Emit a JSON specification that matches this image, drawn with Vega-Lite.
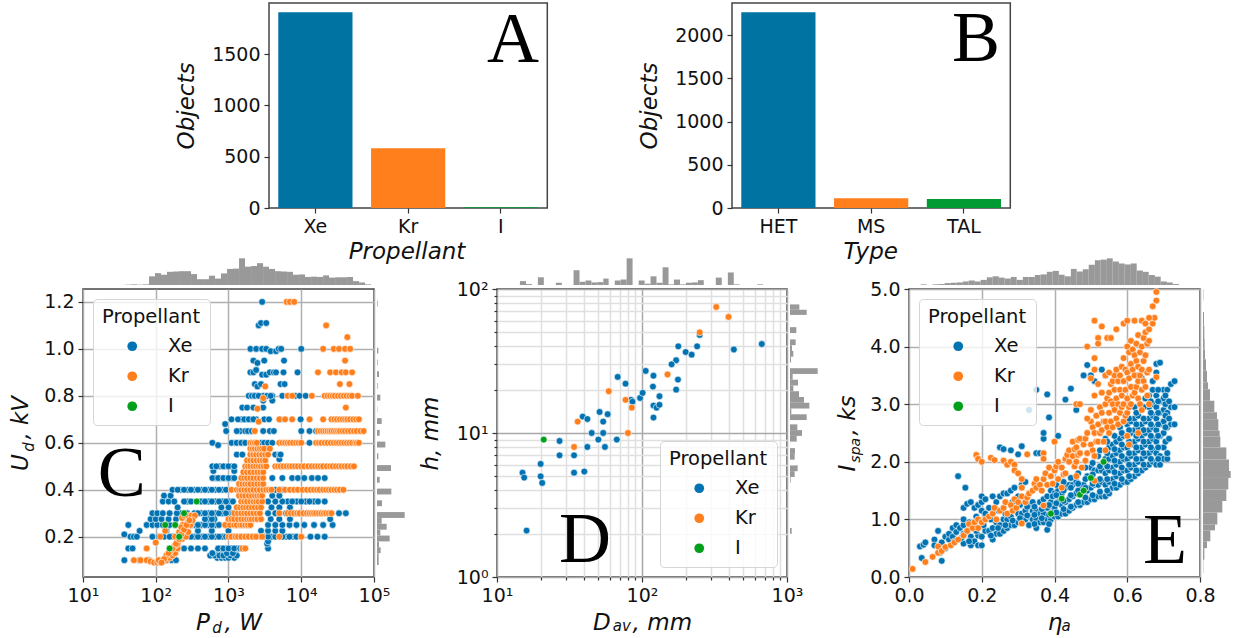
{"$schema":"https://vega.github.io/schema/vega-lite/v6.json","autosize":{"type":"none"},"padding":{"left":83,"top":3,"right":1150,"bottom":635},"background":"white","spacing":3,"resolve":{"scale":{"color":"independent"}},
"config":{"font":"DejaVu Sans","view":{"stroke":"#444","strokeWidth":1.5},"axis":{"labelFontSize":19,"labelColor":"#111","labelFlush":false,"labelOverlap":false,"titleFontSize":23,"titleFontStyle":"italic","titleFontWeight":"normal","titleColor":"#111","tickSize":5,"tickColor":"#333","tickWidth":1.2,"labelPadding":4,"domain":false,"gridColor":"#b0b0b0","gridWidth":1.5},"legend":{"fillColor":"rgba(255,255,255,0.8)","strokeColor":"#d5d5d5","cornerRadius":4,"padding":9,"zindex":1,"symbolSize":95,"symbolType":"circle","symbolStrokeWidth":0,"symbolOffset":20.5,"labelOffset":26,"rowPadding":9,"titleFontSize":19.5,"labelFontSize":19.5,"titleFontWeight":"normal","titlePadding":9,"titleColor":"#111","labelColor":"#111"}},
"datasets":{
"c":[
{"x":215,"y":0.3,"c":"Xe"},{"x":270,"y":0.3,"c":"Xe"},{"x":340,"y":0.3,"c":"Xe"},{"x":420,"y":0.3,"c":"Xe"},{"x":530,"y":0.3,"c":"Xe"},{"x":660,"y":0.3,"c":"Xe"},{"x":830,"y":0.3,"c":"Xe"},{"x":1030,"y":0.3,"c":"Xe"},{"x":5000,"y":0.3,"c":"Xe"},{"x":6200,"y":0.3,"c":"Xe"},{"x":7800,"y":0.3,"c":"Xe"},{"x":9600,"y":0.3,"c":"Xe"},{"x":12000,"y":0.3,"c":"Xe"},{"x":15000,"y":0.3,"c":"Xe"},{"x":18500,"y":0.3,"c":"Xe"},
{"x":270,"y":0.35,"c":"Xe"},{"x":420,"y":0.35,"c":"Xe"},{"x":530,"y":0.35,"c":"Xe"},{"x":660,"y":0.35,"c":"Xe"},{"x":830,"y":0.35,"c":"Xe"},{"x":1030,"y":0.35,"c":"Xe"},{"x":6500,"y":0.35,"c":"Xe"},{"x":8700,"y":0.35,"c":"Xe"},{"x":11500,"y":0.35,"c":"Xe"},{"x":15000,"y":0.35,"c":"Xe"},
{"x":340,"y":0.25,"c":"Xe"},{"x":420,"y":0.25,"c":"Xe"},{"x":530,"y":0.25,"c":"Xe"},{"x":660,"y":0.25,"c":"Xe"},{"x":170,"y":0.2,"c":"Xe"},{"x":220,"y":0.2,"c":"Xe"},{"x":275,"y":0.2,"c":"Xe"},{"x":345,"y":0.2,"c":"Xe"},{"x":430,"y":0.2,"c":"Xe"},{"x":530,"y":0.2,"c":"Xe"},{"x":660,"y":0.2,"c":"Xe"},{"x":830,"y":0.2,"c":"Xe"},{"x":3100,"y":0.2,"c":"Xe"},{"x":3900,"y":0.2,"c":"Xe"},{"x":6200,"y":0.2,"c":"Xe"},{"x":7700,"y":0.2,"c":"Xe"},
{"x":530,"y":0.275,"c":"Xe"},{"x":640,"y":0.275,"c":"Xe"},{"x":220,"y":0.4,"c":"Xe"},{"x":275,"y":0.4,"c":"Xe"},{"x":340,"y":0.4,"c":"Xe"},{"x":420,"y":0.4,"c":"Xe"},{"x":530,"y":0.4,"c":"Xe"},{"x":660,"y":0.4,"c":"Xe"},{"x":830,"y":0.4,"c":"Xe"},{"x":1030,"y":0.4,"c":"Xe"},{"x":4900,"y":0.4,"c":"Xe"},{"x":6000,"y":0.4,"c":"Xe"},
{"x":660,"y":0.45,"c":"Xe"},{"x":780,"y":0.45,"c":"Xe"},{"x":920,"y":0.45,"c":"Xe"},{"x":1100,"y":0.45,"c":"Xe"},{"x":760,"y":0.5,"c":"Xe"},{"x":920,"y":0.5,"c":"Xe"},{"x":1100,"y":0.5,"c":"Xe"},{"x":1200,"y":0.6,"c":"Xe"},{"x":1400,"y":0.6,"c":"Xe"},{"x":1600,"y":0.6,"c":"Xe"},{"x":1450,"y":0.65,"c":"Xe"},{"x":2000,"y":0.65,"c":"Xe"},{"x":1500,"y":0.7,"c":"Xe"},{"x":1750,"y":0.7,"c":"Xe"},{"x":2050,"y":0.7,"c":"Xe"},{"x":2400,"y":0.7,"c":"Xe"},{"x":2000,"y":0.8,"c":"Xe"},{"x":2200,"y":0.8,"c":"Xe"},{"x":2450,"y":0.8,"c":"Xe"},{"x":3000,"y":0.8,"c":"Xe"},{"x":4000,"y":0.8,"c":"Xe"},{"x":780,"y":0.15,"c":"Xe"},{"x":920,"y":0.15,"c":"Xe"},{"x":1100,"y":0.15,"c":"Xe"},{"x":1300,"y":0.15,"c":"Xe"},{"x":600,"y":0.125,"c":"Xe"},{"x":700,"y":0.125,"c":"Xe"},{"x":800,"y":0.125,"c":"Xe"},{"x":900,"y":0.125,"c":"Xe"},{"x":1000,"y":0.125,"c":"Xe"},
{"x":37,"y":0.1,"c":"Xe"},{"x":60,"y":0.1,"c":"Xe"},{"x":80,"y":0.1,"c":"Xe"},{"x":140,"y":0.1,"c":"Xe"},{"x":165,"y":0.1,"c":"Xe"},{"x":190,"y":0.1,"c":"Xe"},
{"x":700,"y":0.11,"c":"Xe"},{"x":800,"y":0.11,"c":"Xe"},{"x":900,"y":0.11,"c":"Xe"},{"x":1000,"y":0.11,"c":"Xe"},{"x":1200,"y":0.11,"c":"Xe"},
{"x":560,"y":0.12,"c":"Xe"},{"x":650,"y":0.12,"c":"Xe"},{"x":750,"y":0.12,"c":"Xe"},{"x":850,"y":0.12,"c":"Xe"},{"x":1050,"y":0.12,"c":"Xe"},{"x":1300,"y":0.12,"c":"Xe"},{"x":600,"y":0.13,"c":"Xe"},{"x":950,"y":0.13,"c":"Xe"},{"x":1150,"y":0.13,"c":"Xe"},
{"x":42,"y":0.15,"c":"Xe"},{"x":48,"y":0.15,"c":"Xe"},{"x":165,"y":0.15,"c":"Xe"},{"x":200,"y":0.15,"c":"Xe"},{"x":245,"y":0.15,"c":"Xe"},{"x":305,"y":0.15,"c":"Xe"},{"x":380,"y":0.15,"c":"Xe"},{"x":475,"y":0.15,"c":"Xe"},{"x":720,"y":0.15,"c":"Xe"},{"x":850,"y":0.15,"c":"Xe"},{"x":1000,"y":0.15,"c":"Xe"},{"x":1200,"y":0.15,"c":"Xe"},{"x":1450,"y":0.15,"c":"Xe"},{"x":3500,"y":0.15,"c":"Xe"},{"x":3400,"y":0.17,"c":"Xe"},{"x":3500,"y":0.18,"c":"Xe"},
{"x":37,"y":0.21,"c":"Xe"},{"x":45,"y":0.2,"c":"Xe"},{"x":50,"y":0.2,"c":"Xe"},{"x":55,"y":0.2,"c":"Xe"},{"x":90,"y":0.2,"c":"Xe"},{"x":110,"y":0.2,"c":"Xe"},{"x":130,"y":0.2,"c":"Xe"},{"x":155,"y":0.2,"c":"Xe"},{"x":195,"y":0.2,"c":"Xe"},{"x":245,"y":0.2,"c":"Xe"},{"x":305,"y":0.2,"c":"Xe"},{"x":380,"y":0.2,"c":"Xe"},{"x":475,"y":0.2,"c":"Xe"},{"x":590,"y":0.2,"c":"Xe"},{"x":740,"y":0.2,"c":"Xe"},{"x":925,"y":0.2,"c":"Xe"},{"x":1150,"y":0.2,"c":"Xe"},{"x":1450,"y":0.2,"c":"Xe"},{"x":1800,"y":0.2,"c":"Xe"},{"x":2250,"y":0.2,"c":"Xe"},{"x":2800,"y":0.2,"c":"Xe"},{"x":3500,"y":0.2,"c":"Xe"},{"x":4400,"y":0.2,"c":"Xe"},{"x":5500,"y":0.2,"c":"Xe"},{"x":6900,"y":0.2,"c":"Xe"},{"x":8600,"y":0.2,"c":"Xe"},{"x":13400,"y":0.2,"c":"Xe"},{"x":16700,"y":0.2,"c":"Xe"},{"x":21000,"y":0.2,"c":"Xe"},
{"x":60,"y":0.225,"c":"Xe"},{"x":140,"y":0.225,"c":"Xe"},{"x":380,"y":0.225,"c":"Xe"},{"x":590,"y":0.225,"c":"Xe"},{"x":1000,"y":0.225,"c":"Xe"},{"x":2800,"y":0.225,"c":"Xe"},{"x":3500,"y":0.225,"c":"Xe"},{"x":4400,"y":0.225,"c":"Xe"},{"x":5500,"y":0.225,"c":"Xe"},
{"x":42,"y":0.25,"c":"Xe"},{"x":75,"y":0.25,"c":"Xe"},{"x":90,"y":0.25,"c":"Xe"},{"x":105,"y":0.25,"c":"Xe"},{"x":125,"y":0.25,"c":"Xe"},{"x":155,"y":0.25,"c":"Xe"},{"x":305,"y":0.25,"c":"Xe"},{"x":380,"y":0.25,"c":"Xe"},{"x":475,"y":0.25,"c":"Xe"},{"x":590,"y":0.25,"c":"Xe"},{"x":740,"y":0.25,"c":"Xe"},{"x":3500,"y":0.25,"c":"Xe"},{"x":4400,"y":0.25,"c":"Xe"},{"x":5500,"y":0.25,"c":"Xe"},{"x":6900,"y":0.25,"c":"Xe"},{"x":8600,"y":0.25,"c":"Xe"},{"x":11000,"y":0.25,"c":"Xe"},{"x":15000,"y":0.25,"c":"Xe"},{"x":20000,"y":0.25,"c":"Xe"},{"x":27000,"y":0.25,"c":"Xe"},
{"x":85,"y":0.275,"c":"Xe"},{"x":100,"y":0.275,"c":"Xe"},{"x":120,"y":0.275,"c":"Xe"},{"x":150,"y":0.275,"c":"Xe"},{"x":190,"y":0.275,"c":"Xe"},{"x":475,"y":0.275,"c":"Xe"},{"x":590,"y":0.275,"c":"Xe"},{"x":3800,"y":0.275,"c":"Xe"},{"x":5000,"y":0.275,"c":"Xe"},{"x":7000,"y":0.275,"c":"Xe"},{"x":25000,"y":0.275,"c":"Xe"},
{"x":90,"y":0.3,"c":"Xe"},{"x":105,"y":0.3,"c":"Xe"},{"x":125,"y":0.3,"c":"Xe"},{"x":155,"y":0.3,"c":"Xe"},{"x":195,"y":0.3,"c":"Xe"},{"x":380,"y":0.3,"c":"Xe"},{"x":475,"y":0.3,"c":"Xe"},{"x":590,"y":0.3,"c":"Xe"},{"x":740,"y":0.3,"c":"Xe"},{"x":925,"y":0.3,"c":"Xe"},{"x":1150,"y":0.3,"c":"Xe"},{"x":3500,"y":0.3,"c":"Xe"},{"x":4400,"y":0.3,"c":"Xe"},{"x":33000,"y":0.3,"c":"Xe"},{"x":41000,"y":0.3,"c":"Xe"},
{"x":200,"y":0.325,"c":"Xe"},{"x":800,"y":0.325,"c":"Xe"},{"x":1000,"y":0.325,"c":"Xe"},{"x":3900,"y":0.325,"c":"Xe"},{"x":5000,"y":0.325,"c":"Xe"},{"x":7000,"y":0.325,"c":"Xe"},
{"x":125,"y":0.35,"c":"Xe"},{"x":150,"y":0.35,"c":"Xe"},{"x":180,"y":0.35,"c":"Xe"},{"x":245,"y":0.35,"c":"Xe"},{"x":305,"y":0.35,"c":"Xe"},{"x":475,"y":0.35,"c":"Xe"},{"x":590,"y":0.35,"c":"Xe"},{"x":740,"y":0.35,"c":"Xe"},{"x":925,"y":0.35,"c":"Xe"},{"x":1150,"y":0.35,"c":"Xe"},{"x":3500,"y":0.35,"c":"Xe"},{"x":4400,"y":0.35,"c":"Xe"},{"x":5500,"y":0.35,"c":"Xe"},{"x":7500,"y":0.35,"c":"Xe"},{"x":10000,"y":0.35,"c":"Xe"},{"x":13000,"y":0.35,"c":"Xe"},{"x":17000,"y":0.35,"c":"Xe"},{"x":21000,"y":0.35,"c":"Xe"},
{"x":130,"y":0.375,"c":"Xe"},{"x":160,"y":0.375,"c":"Xe"},{"x":4000,"y":0.375,"c":"Xe"},{"x":5000,"y":0.375,"c":"Xe"},
{"x":170,"y":0.4,"c":"Xe"},{"x":200,"y":0.4,"c":"Xe"},{"x":245,"y":0.4,"c":"Xe"},{"x":305,"y":0.4,"c":"Xe"},{"x":380,"y":0.4,"c":"Xe"},{"x":475,"y":0.4,"c":"Xe"},{"x":590,"y":0.4,"c":"Xe"},{"x":740,"y":0.4,"c":"Xe"},{"x":925,"y":0.4,"c":"Xe"},{"x":4400,"y":0.4,"c":"Xe"},{"x":5500,"y":0.4,"c":"Xe"},
{"x":600,"y":0.45,"c":"Xe"},{"x":720,"y":0.45,"c":"Xe"},{"x":850,"y":0.45,"c":"Xe"},{"x":1000,"y":0.45,"c":"Xe"},{"x":1200,"y":0.45,"c":"Xe"},{"x":4000,"y":0.45,"c":"Xe"},{"x":5500,"y":0.45,"c":"Xe"},{"x":7500,"y":0.45,"c":"Xe"},{"x":9000,"y":0.45,"c":"Xe"},{"x":11000,"y":0.45,"c":"Xe"},{"x":14000,"y":0.45,"c":"Xe"},{"x":17000,"y":0.45,"c":"Xe"},{"x":21000,"y":0.45,"c":"Xe"},
{"x":620,"y":0.48,"c":"Xe"},{"x":1200,"y":0.48,"c":"Xe"},{"x":600,"y":0.5,"c":"Xe"},{"x":680,"y":0.5,"c":"Xe"},{"x":850,"y":0.5,"c":"Xe"},{"x":1000,"y":0.5,"c":"Xe"},{"x":1200,"y":0.5,"c":"Xe"},
{"x":5000,"y":0.53,"c":"Xe"},{"x":1300,"y":0.55,"c":"Xe"},{"x":1550,"y":0.55,"c":"Xe"},{"x":4400,"y":0.55,"c":"Xe"},{"x":5000,"y":0.55,"c":"Xe"},{"x":5200,"y":0.55,"c":"Xe"},
{"x":600,"y":0.6,"c":"Xe"},{"x":720,"y":0.59,"c":"Xe"},{"x":1100,"y":0.6,"c":"Xe"},{"x":1300,"y":0.6,"c":"Xe"},{"x":1500,"y":0.6,"c":"Xe"},{"x":1700,"y":0.6,"c":"Xe"},{"x":2800,"y":0.6,"c":"Xe"},{"x":3100,"y":0.6,"c":"Xe"},{"x":3500,"y":0.6,"c":"Xe"},{"x":4000,"y":0.6,"c":"Xe"},{"x":13000,"y":0.6,"c":"Xe"},
{"x":930,"y":0.65,"c":"Xe"},{"x":1300,"y":0.65,"c":"Xe"},{"x":1700,"y":0.65,"c":"Xe"},{"x":1850,"y":0.65,"c":"Xe"},{"x":2100,"y":0.65,"c":"Xe"},{"x":3000,"y":0.65,"c":"Xe"},{"x":3700,"y":0.65,"c":"Xe"},{"x":4200,"y":0.65,"c":"Xe"},{"x":10000,"y":0.65,"c":"Xe"},{"x":13000,"y":0.65,"c":"Xe"},{"x":16000,"y":0.65,"c":"Xe"},{"x":900,"y":0.68,"c":"Xe"},
{"x":1100,"y":0.7,"c":"Xe"},{"x":1350,"y":0.7,"c":"Xe"},{"x":1650,"y":0.7,"c":"Xe"},{"x":1900,"y":0.7,"c":"Xe"},{"x":2200,"y":0.7,"c":"Xe"},{"x":3100,"y":0.7,"c":"Xe"},{"x":3600,"y":0.7,"c":"Xe"},{"x":5200,"y":0.7,"c":"Xe"},{"x":9800,"y":0.7,"c":"Xe"},
{"x":1550,"y":0.75,"c":"Xe"},{"x":1800,"y":0.75,"c":"Xe"},{"x":2200,"y":0.75,"c":"Xe"},{"x":3000,"y":0.75,"c":"Xe"},{"x":3000,"y":0.78,"c":"Xe"},{"x":4000,"y":0.78,"c":"Xe"},
{"x":1900,"y":0.8,"c":"Xe"},{"x":2100,"y":0.8,"c":"Xe"},{"x":2300,"y":0.8,"c":"Xe"},{"x":2600,"y":0.8,"c":"Xe"},{"x":3400,"y":0.8,"c":"Xe"},{"x":3800,"y":0.8,"c":"Xe"},{"x":5500,"y":0.8,"c":"Xe"},{"x":8300,"y":0.8,"c":"Xe"},{"x":9500,"y":0.8,"c":"Xe"},{"x":11500,"y":0.8,"c":"Xe"},
{"x":2300,"y":0.85,"c":"Xe"},{"x":2500,"y":0.84,"c":"Xe"},{"x":2800,"y":0.85,"c":"Xe"},{"x":5200,"y":0.85,"c":"Xe"},{"x":5900,"y":0.85,"c":"Xe"},
{"x":2000,"y":0.9,"c":"Xe"},{"x":2200,"y":0.9,"c":"Xe"},{"x":2400,"y":0.91,"c":"Xe"},{"x":2900,"y":0.89,"c":"Xe"},{"x":3300,"y":0.89,"c":"Xe"},{"x":3700,"y":0.9,"c":"Xe"},{"x":4200,"y":0.9,"c":"Xe"},{"x":4500,"y":0.9,"c":"Xe"},{"x":5700,"y":0.9,"c":"Xe"},{"x":8900,"y":0.9,"c":"Xe"},
{"x":2200,"y":0.95,"c":"Xe"},{"x":2500,"y":0.94,"c":"Xe"},{"x":3100,"y":0.95,"c":"Xe"},{"x":5800,"y":0.95,"c":"Xe"},
{"x":2000,"y":1.0,"c":"Xe"},{"x":2400,"y":1.0,"c":"Xe"},{"x":2900,"y":1.0,"c":"Xe"},{"x":3300,"y":1.0,"c":"Xe"},{"x":3800,"y":0.99,"c":"Xe"},{"x":4500,"y":0.99,"c":"Xe"},{"x":4900,"y":1.0,"c":"Xe"},{"x":5300,"y":1.0,"c":"Xe"},{"x":10000,"y":1.0,"c":"Xe"},
{"x":2600,"y":1.1,"c":"Xe"},{"x":2800,"y":1.11,"c":"Xe"},{"x":3300,"y":1.11,"c":"Xe"},{"x":2900,"y":1.2,"c":"Xe"},
{"x":50,"y":0.1,"c":"Kr"},{"x":62,"y":0.1,"c":"Kr"},{"x":75,"y":0.1,"c":"Kr"},{"x":85,"y":0.095,"c":"Kr"},{"x":95,"y":0.09,"c":"Kr"},{"x":105,"y":0.09,"c":"Kr"},{"x":115,"y":0.09,"c":"Kr"},{"x":125,"y":0.095,"c":"Kr"},{"x":140,"y":0.1,"c":"Kr"},{"x":155,"y":0.11,"c":"Kr"},{"x":170,"y":0.12,"c":"Kr"},{"x":185,"y":0.13,"c":"Kr"},{"x":200,"y":0.15,"c":"Kr"},{"x":140,"y":0.12,"c":"Kr"},{"x":160,"y":0.14,"c":"Kr"},{"x":180,"y":0.16,"c":"Kr"},{"x":195,"y":0.18,"c":"Kr"},{"x":215,"y":0.2,"c":"Kr"},{"x":235,"y":0.22,"c":"Kr"},{"x":255,"y":0.24,"c":"Kr"},{"x":275,"y":0.26,"c":"Kr"},{"x":235,"y":0.25,"c":"Kr"},{"x":230,"y":0.28,"c":"Kr"},{"x":250,"y":0.29,"c":"Kr"},{"x":280,"y":0.29,"c":"Kr"},{"x":310,"y":0.29,"c":"Kr"},{"x":345,"y":0.29,"c":"Kr"},{"x":200,"y":0.17,"c":"Kr"},{"x":230,"y":0.19,"c":"Kr"},{"x":260,"y":0.2,"c":"Kr"},{"x":280,"y":0.22,"c":"Kr"},{"x":300,"y":0.25,"c":"Kr"},{"x":320,"y":0.27,"c":"Kr"},{"x":185,"y":0.2,"c":"Kr"},{"x":210,"y":0.22,"c":"Kr"},{"x":225,"y":0.24,"c":"Kr"},{"x":75,"y":0.15,"c":"Kr"},{"x":100,"y":0.175,"c":"Kr"},{"x":115,"y":0.2,"c":"Kr"},{"x":135,"y":0.225,"c":"Kr"},{"x":150,"y":0.13,"c":"Kr"},{"x":170,"y":0.15,"c":"Kr"},{"x":190,"y":0.17,"c":"Kr"},{"x":210,"y":0.19,"c":"Kr"},{"x":225,"y":0.21,"c":"Kr"},{"x":245,"y":0.23,"c":"Kr"},{"x":265,"y":0.25,"c":"Kr"},{"x":290,"y":0.27,"c":"Kr"},{"x":110,"y":0.1,"c":"Kr"},{"x":130,"y":0.105,"c":"Kr"},{"x":120,"y":0.09,"c":"Kr"},
{"x":1550,"y":0.15,"c":"Kr"},{"x":1700,"y":0.15,"c":"Kr"},
{"x":1000,"y":0.2,"c":"Kr"},{"x":1100,"y":0.2,"c":"Kr"},{"x":1250,"y":0.2,"c":"Kr"},{"x":1350,"y":0.2,"c":"Kr"},{"x":1500,"y":0.2,"c":"Kr"},{"x":1700,"y":0.2,"c":"Kr"},{"x":1900,"y":0.2,"c":"Kr"},{"x":2150,"y":0.2,"c":"Kr"},{"x":2400,"y":0.2,"c":"Kr"},{"x":2900,"y":0.2,"c":"Kr"},{"x":5000,"y":0.2,"c":"Kr"},{"x":10000,"y":0.2,"c":"Kr"},
{"x":900,"y":0.25,"c":"Kr"},{"x":1050,"y":0.25,"c":"Kr"},{"x":1200,"y":0.25,"c":"Kr"},{"x":1300,"y":0.25,"c":"Kr"},{"x":1450,"y":0.25,"c":"Kr"},{"x":1550,"y":0.25,"c":"Kr"},{"x":1700,"y":0.25,"c":"Kr"},{"x":1850,"y":0.25,"c":"Kr"},{"x":2000,"y":0.25,"c":"Kr"},
{"x":1000,"y":0.275,"c":"Kr"},{"x":1100,"y":0.275,"c":"Kr"},{"x":1200,"y":0.275,"c":"Kr"},{"x":1350,"y":0.275,"c":"Kr"},{"x":1500,"y":0.275,"c":"Kr"},{"x":1650,"y":0.275,"c":"Kr"},{"x":1800,"y":0.275,"c":"Kr"},{"x":1950,"y":0.275,"c":"Kr"},{"x":2100,"y":0.275,"c":"Kr"},{"x":2300,"y":0.275,"c":"Kr"},{"x":2500,"y":0.275,"c":"Kr"},{"x":2800,"y":0.275,"c":"Kr"},
{"x":1200,"y":0.3,"c":"Kr"},{"x":1350,"y":0.3,"c":"Kr"},{"x":1500,"y":0.3,"c":"Kr"},{"x":1650,"y":0.3,"c":"Kr"},{"x":1800,"y":0.3,"c":"Kr"},{"x":2000,"y":0.3,"c":"Kr"},{"x":2200,"y":0.3,"c":"Kr"},{"x":2450,"y":0.3,"c":"Kr"},{"x":2700,"y":0.3,"c":"Kr"},{"x":5000,"y":0.3,"c":"Kr"},{"x":6500,"y":0.3,"c":"Kr"},{"x":7200,"y":0.3,"c":"Kr"},{"x":8000,"y":0.3,"c":"Kr"},{"x":8800,"y":0.3,"c":"Kr"},{"x":9500,"y":0.3,"c":"Kr"},{"x":10700,"y":0.3,"c":"Kr"},{"x":12000,"y":0.3,"c":"Kr"},{"x":13000,"y":0.3,"c":"Kr"},{"x":14000,"y":0.3,"c":"Kr"},{"x":15000,"y":0.3,"c":"Kr"},{"x":16000,"y":0.3,"c":"Kr"},{"x":17500,"y":0.3,"c":"Kr"},{"x":19000,"y":0.3,"c":"Kr"},{"x":20500,"y":0.3,"c":"Kr"},{"x":22000,"y":0.3,"c":"Kr"},{"x":24000,"y":0.3,"c":"Kr"},{"x":26000,"y":0.3,"c":"Kr"},
{"x":1300,"y":0.325,"c":"Kr"},{"x":1450,"y":0.325,"c":"Kr"},{"x":1600,"y":0.325,"c":"Kr"},{"x":1750,"y":0.325,"c":"Kr"},{"x":1900,"y":0.325,"c":"Kr"},{"x":2100,"y":0.325,"c":"Kr"},{"x":2300,"y":0.325,"c":"Kr"},{"x":2550,"y":0.325,"c":"Kr"},{"x":2800,"y":0.325,"c":"Kr"},
{"x":1500,"y":0.35,"c":"Kr"},{"x":1650,"y":0.35,"c":"Kr"},{"x":1800,"y":0.35,"c":"Kr"},{"x":2000,"y":0.35,"c":"Kr"},{"x":2200,"y":0.35,"c":"Kr"},{"x":2400,"y":0.35,"c":"Kr"},{"x":2600,"y":0.35,"c":"Kr"},{"x":2900,"y":0.35,"c":"Kr"},
{"x":1400,"y":0.375,"c":"Kr"},{"x":1550,"y":0.375,"c":"Kr"},{"x":1700,"y":0.375,"c":"Kr"},{"x":1900,"y":0.375,"c":"Kr"},{"x":2100,"y":0.375,"c":"Kr"},{"x":2300,"y":0.375,"c":"Kr"},{"x":2500,"y":0.375,"c":"Kr"},{"x":2700,"y":0.375,"c":"Kr"},{"x":2900,"y":0.375,"c":"Kr"},
{"x":1100,"y":0.4,"c":"Kr"},{"x":1300,"y":0.4,"c":"Kr"},{"x":1400,"y":0.4,"c":"Kr"},{"x":1500,"y":0.4,"c":"Kr"},{"x":1650,"y":0.4,"c":"Kr"},{"x":1800,"y":0.4,"c":"Kr"},{"x":2000,"y":0.4,"c":"Kr"},{"x":2200,"y":0.4,"c":"Kr"},{"x":2450,"y":0.4,"c":"Kr"},{"x":2700,"y":0.4,"c":"Kr"},{"x":3000,"y":0.4,"c":"Kr"},{"x":3300,"y":0.4,"c":"Kr"},{"x":3600,"y":0.4,"c":"Kr"},{"x":3900,"y":0.4,"c":"Kr"},{"x":5000,"y":0.4,"c":"Kr"},{"x":6000,"y":0.4,"c":"Kr"},{"x":7000,"y":0.4,"c":"Kr"},{"x":8000,"y":0.4,"c":"Kr"},{"x":9000,"y":0.4,"c":"Kr"},{"x":10500,"y":0.4,"c":"Kr"},{"x":12000,"y":0.4,"c":"Kr"},{"x":13500,"y":0.4,"c":"Kr"},{"x":15000,"y":0.4,"c":"Kr"},{"x":16500,"y":0.4,"c":"Kr"},{"x":18000,"y":0.4,"c":"Kr"},{"x":20000,"y":0.4,"c":"Kr"},{"x":22000,"y":0.4,"c":"Kr"},{"x":24000,"y":0.4,"c":"Kr"},{"x":26000,"y":0.4,"c":"Kr"},{"x":28500,"y":0.4,"c":"Kr"},{"x":31000,"y":0.4,"c":"Kr"},{"x":34000,"y":0.4,"c":"Kr"},{"x":38000,"y":0.4,"c":"Kr"},
{"x":1400,"y":0.425,"c":"Kr"},{"x":1550,"y":0.425,"c":"Kr"},{"x":1700,"y":0.425,"c":"Kr"},{"x":1850,"y":0.425,"c":"Kr"},{"x":2000,"y":0.425,"c":"Kr"},{"x":2250,"y":0.425,"c":"Kr"},{"x":2500,"y":0.425,"c":"Kr"},{"x":2750,"y":0.425,"c":"Kr"},{"x":3000,"y":0.425,"c":"Kr"},
{"x":1500,"y":0.45,"c":"Kr"},{"x":1650,"y":0.45,"c":"Kr"},{"x":1800,"y":0.45,"c":"Kr"},{"x":2000,"y":0.45,"c":"Kr"},{"x":2200,"y":0.45,"c":"Kr"},{"x":2450,"y":0.45,"c":"Kr"},{"x":2700,"y":0.45,"c":"Kr"},{"x":3000,"y":0.45,"c":"Kr"},
{"x":1600,"y":0.475,"c":"Kr"},{"x":1800,"y":0.475,"c":"Kr"},{"x":2000,"y":0.475,"c":"Kr"},{"x":2250,"y":0.475,"c":"Kr"},{"x":2500,"y":0.475,"c":"Kr"},{"x":2750,"y":0.475,"c":"Kr"},{"x":3000,"y":0.475,"c":"Kr"},
{"x":1700,"y":0.5,"c":"Kr"},{"x":1850,"y":0.5,"c":"Kr"},{"x":2000,"y":0.5,"c":"Kr"},{"x":2200,"y":0.5,"c":"Kr"},{"x":2400,"y":0.5,"c":"Kr"},{"x":2600,"y":0.5,"c":"Kr"},{"x":2800,"y":0.5,"c":"Kr"},{"x":3050,"y":0.5,"c":"Kr"},{"x":3300,"y":0.5,"c":"Kr"},{"x":4400,"y":0.5,"c":"Kr"},{"x":4800,"y":0.5,"c":"Kr"},{"x":5200,"y":0.5,"c":"Kr"},{"x":5700,"y":0.5,"c":"Kr"},{"x":6300,"y":0.5,"c":"Kr"},{"x":6900,"y":0.5,"c":"Kr"},{"x":7500,"y":0.5,"c":"Kr"},{"x":8200,"y":0.5,"c":"Kr"},{"x":9000,"y":0.5,"c":"Kr"},{"x":10000,"y":0.5,"c":"Kr"},{"x":11000,"y":0.5,"c":"Kr"},{"x":12500,"y":0.5,"c":"Kr"},{"x":14000,"y":0.5,"c":"Kr"},{"x":15500,"y":0.5,"c":"Kr"},{"x":17000,"y":0.5,"c":"Kr"},{"x":18500,"y":0.5,"c":"Kr"},{"x":20000,"y":0.5,"c":"Kr"},{"x":22500,"y":0.5,"c":"Kr"},{"x":25000,"y":0.5,"c":"Kr"},{"x":27000,"y":0.5,"c":"Kr"},{"x":30000,"y":0.5,"c":"Kr"},{"x":33000,"y":0.5,"c":"Kr"},{"x":36000,"y":0.5,"c":"Kr"},{"x":39500,"y":0.5,"c":"Kr"},{"x":43000,"y":0.5,"c":"Kr"},{"x":48000,"y":0.5,"c":"Kr"},{"x":53000,"y":0.5,"c":"Kr"},
{"x":1800,"y":0.525,"c":"Kr"},{"x":2000,"y":0.525,"c":"Kr"},{"x":2200,"y":0.525,"c":"Kr"},{"x":2450,"y":0.525,"c":"Kr"},{"x":2700,"y":0.525,"c":"Kr"},{"x":2950,"y":0.525,"c":"Kr"},{"x":3200,"y":0.525,"c":"Kr"},{"x":2000,"y":0.55,"c":"Kr"},{"x":2200,"y":0.55,"c":"Kr"},{"x":2400,"y":0.55,"c":"Kr"},{"x":2650,"y":0.55,"c":"Kr"},{"x":2900,"y":0.55,"c":"Kr"},{"x":3200,"y":0.55,"c":"Kr"},{"x":3500,"y":0.55,"c":"Kr"},{"x":2000,"y":0.575,"c":"Kr"},{"x":2150,"y":0.575,"c":"Kr"},{"x":2300,"y":0.575,"c":"Kr"},{"x":2500,"y":0.575,"c":"Kr"},{"x":2700,"y":0.575,"c":"Kr"},{"x":2900,"y":0.575,"c":"Kr"},{"x":3100,"y":0.575,"c":"Kr"},{"x":3700,"y":0.575,"c":"Kr"},
{"x":2000,"y":0.6,"c":"Kr"},{"x":2150,"y":0.6,"c":"Kr"},{"x":2300,"y":0.6,"c":"Kr"},{"x":2450,"y":0.6,"c":"Kr"},{"x":5000,"y":0.6,"c":"Kr"},{"x":5500,"y":0.6,"c":"Kr"},{"x":6000,"y":0.6,"c":"Kr"},{"x":6500,"y":0.6,"c":"Kr"},{"x":7000,"y":0.6,"c":"Kr"},{"x":7700,"y":0.6,"c":"Kr"},{"x":8500,"y":0.6,"c":"Kr"},{"x":9200,"y":0.6,"c":"Kr"},{"x":10000,"y":0.6,"c":"Kr"},{"x":16000,"y":0.6,"c":"Kr"},{"x":17500,"y":0.6,"c":"Kr"},{"x":19000,"y":0.6,"c":"Kr"},{"x":21000,"y":0.6,"c":"Kr"},{"x":23000,"y":0.6,"c":"Kr"},{"x":25500,"y":0.6,"c":"Kr"},{"x":28000,"y":0.6,"c":"Kr"},{"x":30500,"y":0.6,"c":"Kr"},{"x":33000,"y":0.6,"c":"Kr"},{"x":36000,"y":0.6,"c":"Kr"},{"x":39000,"y":0.6,"c":"Kr"},{"x":42500,"y":0.6,"c":"Kr"},{"x":46000,"y":0.6,"c":"Kr"},{"x":50000,"y":0.6,"c":"Kr"},{"x":55000,"y":0.6,"c":"Kr"},{"x":58000,"y":0.6,"c":"Kr"},{"x":62000,"y":0.6,"c":"Kr"},
{"x":2300,"y":0.65,"c":"Kr"},{"x":17000,"y":0.65,"c":"Kr"},{"x":18500,"y":0.65,"c":"Kr"},{"x":20000,"y":0.65,"c":"Kr"},{"x":21500,"y":0.65,"c":"Kr"},{"x":23000,"y":0.65,"c":"Kr"},{"x":24500,"y":0.65,"c":"Kr"},{"x":26000,"y":0.65,"c":"Kr"},{"x":28000,"y":0.65,"c":"Kr"},{"x":30000,"y":0.65,"c":"Kr"},{"x":32000,"y":0.65,"c":"Kr"},{"x":34000,"y":0.65,"c":"Kr"},{"x":37000,"y":0.65,"c":"Kr"},{"x":40000,"y":0.65,"c":"Kr"},{"x":44000,"y":0.65,"c":"Kr"},{"x":48000,"y":0.65,"c":"Kr"},{"x":53000,"y":0.65,"c":"Kr"},{"x":58000,"y":0.65,"c":"Kr"},{"x":65000,"y":0.65,"c":"Kr"},{"x":72000,"y":0.65,"c":"Kr"},
{"x":2600,"y":0.69,"c":"Kr"},{"x":5000,"y":0.7,"c":"Kr"},{"x":6000,"y":0.7,"c":"Kr"},{"x":7500,"y":0.7,"c":"Kr"},{"x":13000,"y":0.7,"c":"Kr"},{"x":20000,"y":0.7,"c":"Kr"},{"x":26000,"y":0.7,"c":"Kr"},{"x":28500,"y":0.7,"c":"Kr"},{"x":31000,"y":0.7,"c":"Kr"},{"x":34000,"y":0.7,"c":"Kr"},{"x":37000,"y":0.7,"c":"Kr"},{"x":40000,"y":0.7,"c":"Kr"},{"x":43000,"y":0.7,"c":"Kr"},{"x":47000,"y":0.7,"c":"Kr"},{"x":52000,"y":0.7,"c":"Kr"},{"x":57000,"y":0.7,"c":"Kr"},{"x":62000,"y":0.7,"c":"Kr"},
{"x":2500,"y":0.745,"c":"Kr"},{"x":41000,"y":0.75,"c":"Kr"},{"x":3000,"y":0.79,"c":"Kr"},
{"x":6500,"y":0.8,"c":"Kr"},{"x":7500,"y":0.8,"c":"Kr"},{"x":14000,"y":0.8,"c":"Kr"},{"x":21000,"y":0.8,"c":"Kr"},{"x":23000,"y":0.8,"c":"Kr"},{"x":25000,"y":0.8,"c":"Kr"},{"x":27000,"y":0.8,"c":"Kr"},{"x":29000,"y":0.8,"c":"Kr"},{"x":32000,"y":0.8,"c":"Kr"},{"x":35000,"y":0.8,"c":"Kr"},{"x":38500,"y":0.8,"c":"Kr"},{"x":42000,"y":0.8,"c":"Kr"},{"x":46000,"y":0.8,"c":"Kr"},{"x":50000,"y":0.8,"c":"Kr"},{"x":60000,"y":0.8,"c":"Kr"},
{"x":3200,"y":0.84,"c":"Kr"},{"x":34000,"y":0.85,"c":"Kr"},{"x":46000,"y":0.85,"c":"Kr"},
{"x":17000,"y":0.9,"c":"Kr"},{"x":25000,"y":0.9,"c":"Kr"},{"x":30000,"y":0.9,"c":"Kr"},{"x":36000,"y":0.9,"c":"Kr"},{"x":41000,"y":0.9,"c":"Kr"},{"x":50000,"y":0.9,"c":"Kr"},{"x":40000,"y":0.95,"c":"Kr"},
{"x":20000,"y":1.0,"c":"Kr"},{"x":28000,"y":1.0,"c":"Kr"},{"x":33000,"y":1.0,"c":"Kr"},{"x":40000,"y":1.0,"c":"Kr"},{"x":47000,"y":1.0,"c":"Kr"},{"x":43000,"y":1.05,"c":"Kr"},{"x":22000,"y":1.1,"c":"Kr"},{"x":6300,"y":1.2,"c":"Kr"},{"x":7000,"y":1.2,"c":"Kr"},{"x":8000,"y":1.2,"c":"Kr"},
{"x":135,"y":0.25,"c":"I"},{"x":185,"y":0.25,"c":"I"},{"x":155,"y":0.15,"c":"I"},{"x":210,"y":0.2,"c":"I"},{"x":245,"y":0.3,"c":"I"},{"x":365,"y":0.35,"c":"I"}],
"d":[{"x":15,"y":5.3,"c":"Xe"},{"x":15.4,"y":4.9,"c":"Xe"},{"x":16,"y":2.1,"c":"Xe"},{"x":20,"y":6.1,"c":"Xe"},{"x":20,"y":5,"c":"Xe"},{"x":20.5,"y":4.5,"c":"Xe"},{"x":27,"y":8.8,"c":"Xe"},{"x":27,"y":7,"c":"Xe"},{"x":34,"y":7,"c":"Xe"},{"x":34,"y":5.3,"c":"Xe"},{"x":40,"y":5.4,"c":"Xe"},{"x":42,"y":8,"c":"Xe"},{"x":39,"y":13,"c":"Xe"},{"x":42,"y":12.5,"c":"Xe"},{"x":45,"y":10,"c":"Xe"},{"x":50,"y":9,"c":"Xe"},{"x":51,"y":14,"c":"Xe"},{"x":54,"y":12,"c":"Xe"},{"x":54,"y":10,"c":"Xe"},{"x":55.5,"y":8,"c":"Xe"},{"x":58,"y":13.5,"c":"Xe"},{"x":67,"y":9,"c":"Xe"},{"x":68,"y":24.5,"c":"Xe"},{"x":77,"y":22,"c":"Xe"},{"x":84,"y":17,"c":"Xe"},{"x":86,"y":16.5,"c":"Xe"},{"x":97,"y":17.5,"c":"Xe"},{"x":101,"y":19,"c":"Xe"},{"x":106,"y":27,"c":"Xe"},{"x":120,"y":25,"c":"Xe"},{"x":119,"y":21,"c":"Xe"},{"x":120,"y":15.5,"c":"Xe"},{"x":120,"y":12.8,"c":"Xe"},{"x":126,"y":15,"c":"Xe"},{"x":132,"y":18,"c":"Xe"},{"x":132,"y":15.7,"c":"Xe"},{"x":172,"y":20,"c":"Xe"},{"x":177,"y":23.5,"c":"Xe"},{"x":178,"y":40,"c":"Xe"},{"x":172,"y":32,"c":"Xe"},{"x":160,"y":30,"c":"Xe"},{"x":200,"y":36.5,"c":"Xe"},{"x":220,"y":35,"c":"Xe"},{"x":240,"y":40,"c":"Xe"},{"x":250,"y":48,"c":"Xe"},{"x":430,"y":38,"c":"Xe"},{"x":670,"y":41.5,"c":"Xe"},{"x":36,"y":12,"c":"Kr"},{"x":34,"y":8,"c":"Kr"},{"x":59,"y":19.5,"c":"Kr"},{"x":77,"y":17,"c":"Kr"},{"x":85,"y":15,"c":"Kr"},{"x":80,"y":10,"c":"Kr"},{"x":150,"y":25.5,"c":"Kr"},{"x":250,"y":50,"c":"Kr"},{"x":325,"y":75,"c":"Kr"},{"x":395,"y":64,"c":"Kr"},{"x":21,"y":9,"c":"I"}],
"e":[{"x":0.03,"y":0.53,"c":"Xe"},{"x":0.04,"y":0.56,"c":"Xe"},{"x":0.035,"y":0.33,"c":"Xe"},{"x":0.045,"y":0.6,"c":"Xe"},{"x":0.07,"y":0.65,"c":"Xe"},{"x":0.07,"y":0.55,"c":"Xe"},{"x":0.09,"y":0.28,"c":"Xe"},{"x":0.08,"y":0.8,"c":"Xe"},{"x":0.09,"y":0.6,"c":"Xe"},{"x":0.1,"y":0.5,"c":"Xe"},{"x":0.1,"y":0.7,"c":"Xe"},{"x":0.11,"y":0.65,"c":"Xe"},{"x":0.11,"y":0.75,"c":"Xe"},{"x":0.12,"y":0.85,"c":"Xe"},{"x":0.12,"y":0.7,"c":"Xe"},{"x":0.13,"y":0.9,"c":"Xe"},{"x":0.13,"y":0.78,"c":"Xe"},{"x":0.14,"y":0.85,"c":"Xe"},{"x":0.15,"y":0.58,"c":"Xe"},{"x":0.15,"y":0.75,"c":"Xe"},{"x":0.15,"y":0.9,"c":"Xe"},{"x":0.15,"y":1.0,"c":"Xe"},{"x":0.15,"y":1.2,"c":"Xe"},{"x":0.155,"y":1.55,"c":"Xe"},{"x":0.135,"y":1.75,"c":"Xe"},{"x":0.16,"y":0.8,"c":"Xe"},{"x":0.16,"y":1.27,"c":"Xe"},{"x":0.17,"y":0.55,"c":"Xe"},{"x":0.17,"y":0.7,"c":"Xe"},{"x":0.17,"y":1.3,"c":"Xe"},{"x":0.18,"y":0.62,"c":"Xe"},{"x":0.18,"y":0.92,"c":"Xe"},{"x":0.18,"y":1.2,"c":"Xe"},{"x":0.19,"y":0.55,"c":"Xe"},{"x":0.19,"y":0.72,"c":"Xe"},{"x":0.19,"y":1.25,"c":"Xe"},{"x":0.2,"y":0.55,"c":"Xe"},{"x":0.2,"y":0.7,"c":"Xe"},{"x":0.2,"y":1.15,"c":"Xe"},{"x":0.2,"y":1.3,"c":"Xe"},{"x":0.2,"y":1.4,"c":"Xe"},{"x":0.21,"y":0.8,"c":"Xe"},{"x":0.21,"y":1.1,"c":"Xe"},{"x":0.21,"y":1.35,"c":"Xe"},{"x":0.22,"y":0.8,"c":"Xe"},{"x":0.22,"y":1.2,"c":"Xe"},{"x":0.23,"y":0.65,"c":"Xe"},{"x":0.23,"y":0.85,"c":"Xe"},{"x":0.23,"y":1.4,"c":"Xe"},{"x":0.24,"y":0.75,"c":"Xe"},{"x":0.24,"y":0.95,"c":"Xe"},{"x":0.24,"y":1.3,"c":"Xe"},{"x":0.25,"y":0.75,"c":"Xe"},{"x":0.25,"y":0.9,"c":"Xe"},{"x":0.25,"y":1.4,"c":"Xe"},{"x":0.25,"y":2.25,"c":"Xe"},{"x":0.26,"y":0.8,"c":"Xe"},{"x":0.26,"y":1.0,"c":"Xe"},{"x":0.26,"y":1.45,"c":"Xe"},{"x":0.26,"y":2.22,"c":"Xe"},{"x":0.27,"y":0.85,"c":"Xe"},{"x":0.27,"y":1.0,"c":"Xe"},{"x":0.27,"y":1.45,"c":"Xe"},{"x":0.28,"y":0.9,"c":"Xe"},{"x":0.28,"y":1.05,"c":"Xe"},{"x":0.28,"y":1.5,"c":"Xe"},{"x":0.28,"y":2.2,"c":"Xe"},{"x":0.29,"y":0.9,"c":"Xe"},{"x":0.29,"y":1.55,"c":"Xe"},{"x":0.3,"y":0.95,"c":"Xe"},{"x":0.3,"y":1.1,"c":"Xe"},{"x":0.3,"y":1.4,"c":"Xe"},{"x":0.3,"y":2.13,"c":"Xe"},{"x":0.31,"y":0.95,"c":"Xe"},{"x":0.31,"y":1.1,"c":"Xe"},{"x":0.31,"y":1.6,"c":"Xe"},{"x":0.31,"y":2.27,"c":"Xe"},{"x":0.32,"y":1.0,"c":"Xe"},{"x":0.32,"y":1.15,"c":"Xe"},{"x":0.32,"y":1.65,"c":"Xe"},{"x":0.33,"y":0.9,"c":"Xe"},{"x":0.33,"y":1.05,"c":"Xe"},{"x":0.33,"y":1.25,"c":"Xe"},{"x":0.33,"y":2.9,"c":"Xe"},{"x":0.34,"y":1.0,"c":"Xe"},{"x":0.34,"y":1.15,"c":"Xe"},{"x":0.34,"y":1.3,"c":"Xe"},{"x":0.35,"y":0.85,"c":"Xe"},{"x":0.35,"y":1.0,"c":"Xe"},{"x":0.35,"y":1.15,"c":"Xe"},{"x":0.35,"y":2.15,"c":"Xe"},{"x":0.35,"y":3.25,"c":"Xe"},{"x":0.36,"y":0.95,"c":"Xe"},{"x":0.36,"y":1.1,"c":"Xe"},{"x":0.36,"y":1.3,"c":"Xe"},{"x":0.36,"y":2.15,"c":"Xe"},{"x":0.37,"y":0.95,"c":"Xe"},{"x":0.37,"y":1.1,"c":"Xe"},{"x":0.37,"y":1.35,"c":"Xe"},{"x":0.37,"y":2.4,"c":"Xe"},{"x":0.37,"y":2.5,"c":"Xe"},{"x":0.38,"y":0.82,"c":"Xe"},{"x":0.38,"y":1.0,"c":"Xe"},{"x":0.38,"y":1.2,"c":"Xe"},{"x":0.38,"y":1.4,"c":"Xe"},{"x":0.38,"y":3.17,"c":"Xe"},{"x":0.385,"y":2.77,"c":"Xe"},{"x":0.39,"y":1.0,"c":"Xe"},{"x":0.39,"y":1.3,"c":"Xe"},{"x":0.39,"y":1.5,"c":"Xe"},{"x":0.4,"y":1.05,"c":"Xe"},{"x":0.4,"y":1.2,"c":"Xe"},{"x":0.4,"y":1.45,"c":"Xe"},{"x":0.41,"y":1.05,"c":"Xe"},{"x":0.41,"y":1.3,"c":"Xe"},{"x":0.41,"y":1.5,"c":"Xe"},{"x":0.41,"y":2.45,"c":"Xe"},{"x":0.42,"y":1.1,"c":"Xe"},{"x":0.42,"y":1.25,"c":"Xe"},{"x":0.42,"y":1.45,"c":"Xe"},{"x":0.43,"y":1.1,"c":"Xe"},{"x":0.43,"y":1.3,"c":"Xe"},{"x":0.43,"y":1.55,"c":"Xe"},{"x":0.43,"y":3.08,"c":"Xe"},{"x":0.44,"y":1.15,"c":"Xe"},{"x":0.44,"y":1.35,"c":"Xe"},{"x":0.44,"y":1.6,"c":"Xe"},{"x":0.445,"y":3.27,"c":"Xe"},{"x":0.45,"y":1.2,"c":"Xe"},{"x":0.45,"y":1.4,"c":"Xe"},{"x":0.45,"y":1.6,"c":"Xe"},{"x":0.46,"y":1.25,"c":"Xe"},{"x":0.46,"y":1.45,"c":"Xe"},{"x":0.46,"y":1.65,"c":"Xe"},{"x":0.46,"y":2.9,"c":"Xe"},{"x":0.47,"y":1.25,"c":"Xe"},{"x":0.47,"y":1.55,"c":"Xe"},{"x":0.48,"y":1.3,"c":"Xe"},{"x":0.48,"y":1.6,"c":"Xe"},{"x":0.48,"y":3.5,"c":"Xe"},{"x":0.49,"y":1.3,"c":"Xe"},{"x":0.49,"y":1.5,"c":"Xe"},{"x":0.49,"y":1.75,"c":"Xe"},{"x":0.49,"y":3.68,"c":"Xe"},{"x":0.5,"y":1.35,"c":"Xe"},{"x":0.5,"y":1.55,"c":"Xe"},{"x":0.5,"y":1.9,"c":"Xe"},{"x":0.5,"y":3.5,"c":"Xe"},{"x":0.51,"y":1.35,"c":"Xe"},{"x":0.51,"y":1.6,"c":"Xe"},{"x":0.51,"y":1.85,"c":"Xe"},{"x":0.51,"y":3.4,"c":"Xe"},{"x":0.52,"y":1.4,"c":"Xe"},{"x":0.52,"y":1.6,"c":"Xe"},{"x":0.52,"y":1.85,"c":"Xe"},{"x":0.52,"y":2.1,"c":"Xe"},{"x":0.53,"y":1.4,"c":"Xe"},{"x":0.53,"y":1.65,"c":"Xe"},{"x":0.53,"y":1.85,"c":"Xe"},{"x":0.53,"y":3.6,"c":"Xe"},{"x":0.54,"y":1.4,"c":"Xe"},{"x":0.54,"y":1.6,"c":"Xe"},{"x":0.54,"y":1.8,"c":"Xe"},{"x":0.54,"y":2.05,"c":"Xe"},{"x":0.54,"y":2.4,"c":"Xe"},{"x":0.54,"y":3.5,"c":"Xe"},{"x":0.55,"y":1.45,"c":"Xe"},{"x":0.55,"y":1.65,"c":"Xe"},{"x":0.55,"y":1.85,"c":"Xe"},{"x":0.55,"y":2.05,"c":"Xe"},{"x":0.55,"y":2.25,"c":"Xe"},{"x":0.56,"y":1.55,"c":"Xe"},{"x":0.56,"y":1.7,"c":"Xe"},{"x":0.56,"y":1.9,"c":"Xe"},{"x":0.56,"y":2.1,"c":"Xe"},{"x":0.56,"y":2.3,"c":"Xe"},{"x":0.57,"y":1.55,"c":"Xe"},{"x":0.57,"y":1.75,"c":"Xe"},{"x":0.57,"y":1.95,"c":"Xe"},{"x":0.57,"y":2.15,"c":"Xe"},{"x":0.57,"y":2.35,"c":"Xe"},{"x":0.58,"y":1.6,"c":"Xe"},{"x":0.58,"y":1.8,"c":"Xe"},{"x":0.58,"y":2.0,"c":"Xe"},{"x":0.58,"y":2.2,"c":"Xe"},{"x":0.58,"y":2.4,"c":"Xe"},{"x":0.58,"y":2.6,"c":"Xe"},{"x":0.59,"y":1.65,"c":"Xe"},{"x":0.59,"y":1.85,"c":"Xe"},{"x":0.59,"y":2.05,"c":"Xe"},{"x":0.59,"y":2.25,"c":"Xe"},{"x":0.59,"y":2.45,"c":"Xe"},{"x":0.6,"y":1.65,"c":"Xe"},{"x":0.6,"y":1.85,"c":"Xe"},{"x":0.6,"y":2.05,"c":"Xe"},{"x":0.6,"y":2.25,"c":"Xe"},{"x":0.6,"y":2.65,"c":"Xe"},{"x":0.61,"y":1.7,"c":"Xe"},{"x":0.61,"y":1.9,"c":"Xe"},{"x":0.61,"y":2.1,"c":"Xe"},{"x":0.61,"y":2.3,"c":"Xe"},{"x":0.61,"y":2.5,"c":"Xe"},{"x":0.61,"y":2.7,"c":"Xe"},{"x":0.62,"y":1.75,"c":"Xe"},{"x":0.62,"y":1.95,"c":"Xe"},{"x":0.62,"y":2.15,"c":"Xe"},{"x":0.62,"y":2.35,"c":"Xe"},{"x":0.62,"y":2.55,"c":"Xe"},{"x":0.62,"y":2.75,"c":"Xe"},{"x":0.62,"y":2.95,"c":"Xe"},{"x":0.63,"y":1.8,"c":"Xe"},{"x":0.63,"y":2.0,"c":"Xe"},{"x":0.63,"y":2.2,"c":"Xe"},{"x":0.63,"y":2.4,"c":"Xe"},{"x":0.63,"y":2.6,"c":"Xe"},{"x":0.63,"y":2.8,"c":"Xe"},{"x":0.63,"y":3.5,"c":"Xe"},{"x":0.64,"y":1.85,"c":"Xe"},{"x":0.64,"y":2.05,"c":"Xe"},{"x":0.64,"y":2.25,"c":"Xe"},{"x":0.64,"y":2.45,"c":"Xe"},{"x":0.64,"y":2.65,"c":"Xe"},{"x":0.64,"y":3.45,"c":"Xe"},{"x":0.65,"y":1.9,"c":"Xe"},{"x":0.65,"y":2.1,"c":"Xe"},{"x":0.65,"y":2.3,"c":"Xe"},{"x":0.65,"y":2.5,"c":"Xe"},{"x":0.65,"y":2.7,"c":"Xe"},{"x":0.65,"y":3.1,"c":"Xe"},{"x":0.66,"y":1.95,"c":"Xe"},{"x":0.66,"y":2.15,"c":"Xe"},{"x":0.66,"y":2.35,"c":"Xe"},{"x":0.66,"y":2.55,"c":"Xe"},{"x":0.66,"y":2.75,"c":"Xe"},{"x":0.66,"y":2.95,"c":"Xe"},{"x":0.66,"y":3.15,"c":"Xe"},{"x":0.67,"y":2.0,"c":"Xe"},{"x":0.67,"y":2.2,"c":"Xe"},{"x":0.67,"y":2.4,"c":"Xe"},{"x":0.67,"y":2.6,"c":"Xe"},{"x":0.67,"y":2.8,"c":"Xe"},{"x":0.67,"y":3.0,"c":"Xe"},{"x":0.67,"y":3.25,"c":"Xe"},{"x":0.67,"y":3.4,"c":"Xe"},{"x":0.68,"y":1.95,"c":"Xe"},{"x":0.68,"y":2.15,"c":"Xe"},{"x":0.68,"y":2.35,"c":"Xe"},{"x":0.68,"y":2.55,"c":"Xe"},{"x":0.68,"y":2.75,"c":"Xe"},{"x":0.68,"y":2.95,"c":"Xe"},{"x":0.68,"y":3.15,"c":"Xe"},{"x":0.68,"y":3.7,"c":"Xe"},{"x":0.68,"y":3.55,"c":"Xe"},{"x":0.69,"y":1.95,"c":"Xe"},{"x":0.69,"y":2.1,"c":"Xe"},{"x":0.69,"y":2.45,"c":"Xe"},{"x":0.69,"y":2.65,"c":"Xe"},{"x":0.69,"y":2.85,"c":"Xe"},{"x":0.69,"y":3.05,"c":"Xe"},{"x":0.69,"y":3.72,"c":"Xe"},{"x":0.7,"y":2.05,"c":"Xe"},{"x":0.7,"y":2.25,"c":"Xe"},{"x":0.7,"y":2.5,"c":"Xe"},{"x":0.7,"y":2.7,"c":"Xe"},{"x":0.7,"y":2.9,"c":"Xe"},{"x":0.7,"y":3.1,"c":"Xe"},{"x":0.7,"y":3.25,"c":"Xe"},{"x":0.71,"y":2.05,"c":"Xe"},{"x":0.71,"y":2.15,"c":"Xe"},{"x":0.71,"y":2.6,"c":"Xe"},{"x":0.71,"y":2.85,"c":"Xe"},{"x":0.71,"y":3.25,"c":"Xe"},{"x":0.72,"y":2.65,"c":"Xe"},{"x":0.72,"y":2.95,"c":"Xe"},{"x":0.72,"y":3.35,"c":"Xe"},{"x":0.73,"y":2.65,"c":"Xe"},{"x":0.73,"y":2.95,"c":"Xe"},{"x":0.73,"y":3.4,"c":"Xe"},
{"x":0.085,"y":0.42,"c":"Xe"},{"x":0.125,"y":0.62,"c":"Xe"},{"x":0.145,"y":0.68,"c":"Xe"},{"x":0.165,"y":0.62,"c":"Xe"},{"x":0.165,"y":0.95,"c":"Xe"},{"x":0.185,"y":0.8,"c":"Xe"},{"x":0.185,"y":1.05,"c":"Xe"},{"x":0.205,"y":0.9,"c":"Xe"},{"x":0.225,"y":0.72,"c":"Xe"},{"x":0.225,"y":1.0,"c":"Xe"},{"x":0.245,"y":0.85,"c":"Xe"},{"x":0.245,"y":1.15,"c":"Xe"},{"x":0.265,"y":0.9,"c":"Xe"},{"x":0.265,"y":1.1,"c":"Xe"},{"x":0.285,"y":0.98,"c":"Xe"},{"x":0.285,"y":1.3,"c":"Xe"},{"x":0.305,"y":1.02,"c":"Xe"},{"x":0.305,"y":1.25,"c":"Xe"},{"x":0.325,"y":1.07,"c":"Xe"},{"x":0.325,"y":1.22,"c":"Xe"},{"x":0.345,"y":0.92,"c":"Xe"},{"x":0.345,"y":1.08,"c":"Xe"},{"x":0.345,"y":1.22,"c":"Xe"},{"x":0.365,"y":1.02,"c":"Xe"},{"x":0.365,"y":1.18,"c":"Xe"},{"x":0.385,"y":0.92,"c":"Xe"},{"x":0.385,"y":1.08,"c":"Xe"},{"x":0.385,"y":1.25,"c":"Xe"},{"x":0.395,"y":1.12,"c":"Xe"},{"x":0.395,"y":1.4,"c":"Xe"},
{"x":0.405,"y":1.12,"c":"Xe"},{"x":0.405,"y":1.28,"c":"Xe"},{"x":0.405,"y":1.42,"c":"Xe"},{"x":0.405,"y":1.6,"c":"Xe"},{"x":0.425,"y":1.18,"c":"Xe"},{"x":0.425,"y":1.32,"c":"Xe"},{"x":0.425,"y":1.5,"c":"Xe"},{"x":0.425,"y":1.65,"c":"Xe"},{"x":0.445,"y":1.22,"c":"Xe"},{"x":0.445,"y":1.42,"c":"Xe"},{"x":0.445,"y":1.55,"c":"Xe"},{"x":0.445,"y":1.72,"c":"Xe"},{"x":0.465,"y":1.3,"c":"Xe"},{"x":0.465,"y":1.5,"c":"Xe"},{"x":0.465,"y":1.62,"c":"Xe"},{"x":0.465,"y":1.8,"c":"Xe"},{"x":0.485,"y":1.38,"c":"Xe"},{"x":0.485,"y":1.55,"c":"Xe"},{"x":0.485,"y":1.7,"c":"Xe"},{"x":0.485,"y":1.9,"c":"Xe"},{"x":0.505,"y":1.42,"c":"Xe"},{"x":0.505,"y":1.62,"c":"Xe"},{"x":0.505,"y":1.78,"c":"Xe"},{"x":0.505,"y":1.98,"c":"Xe"},{"x":0.525,"y":1.48,"c":"Xe"},{"x":0.525,"y":1.7,"c":"Xe"},{"x":0.525,"y":1.92,"c":"Xe"},{"x":0.525,"y":2.2,"c":"Xe"},{"x":0.545,"y":1.5,"c":"Xe"},{"x":0.545,"y":1.7,"c":"Xe"},{"x":0.545,"y":1.92,"c":"Xe"},{"x":0.545,"y":2.15,"c":"Xe"},{"x":0.545,"y":2.35,"c":"Xe"},{"x":0.565,"y":1.62,"c":"Xe"},{"x":0.565,"y":1.82,"c":"Xe"},{"x":0.565,"y":2.02,"c":"Xe"},{"x":0.565,"y":2.22,"c":"Xe"},{"x":0.565,"y":2.45,"c":"Xe"},{"x":0.585,"y":1.7,"c":"Xe"},{"x":0.585,"y":1.9,"c":"Xe"},{"x":0.585,"y":2.1,"c":"Xe"},{"x":0.585,"y":2.3,"c":"Xe"},{"x":0.585,"y":2.5,"c":"Xe"},{"x":0.605,"y":1.75,"c":"Xe"},{"x":0.605,"y":1.95,"c":"Xe"},{"x":0.605,"y":2.15,"c":"Xe"},{"x":0.605,"y":2.35,"c":"Xe"},{"x":0.605,"y":2.55,"c":"Xe"},{"x":0.605,"y":2.75,"c":"Xe"},{"x":0.625,"y":1.85,"c":"Xe"},{"x":0.625,"y":2.05,"c":"Xe"},{"x":0.625,"y":2.25,"c":"Xe"},{"x":0.625,"y":2.45,"c":"Xe"},{"x":0.625,"y":2.65,"c":"Xe"},{"x":0.625,"y":2.85,"c":"Xe"},{"x":0.645,"y":1.95,"c":"Xe"},{"x":0.645,"y":2.15,"c":"Xe"},{"x":0.645,"y":2.35,"c":"Xe"},{"x":0.645,"y":2.55,"c":"Xe"},{"x":0.645,"y":2.75,"c":"Xe"},{"x":0.645,"y":2.95,"c":"Xe"},{"x":0.665,"y":2.05,"c":"Xe"},{"x":0.665,"y":2.25,"c":"Xe"},{"x":0.665,"y":2.45,"c":"Xe"},{"x":0.665,"y":2.65,"c":"Xe"},{"x":0.665,"y":2.85,"c":"Xe"},{"x":0.665,"y":3.05,"c":"Xe"},{"x":0.685,"y":2.05,"c":"Xe"},{"x":0.685,"y":2.25,"c":"Xe"},{"x":0.685,"y":2.45,"c":"Xe"},{"x":0.685,"y":2.65,"c":"Xe"},{"x":0.685,"y":2.85,"c":"Xe"},{"x":0.685,"y":3.05,"c":"Xe"},{"x":0.685,"y":3.25,"c":"Xe"},{"x":0.705,"y":2.35,"c":"Xe"},{"x":0.705,"y":2.6,"c":"Xe"},{"x":0.705,"y":2.8,"c":"Xe"},{"x":0.705,"y":3.0,"c":"Xe"},{"x":0.705,"y":3.15,"c":"Xe"},{"x":0.715,"y":2.4,"c":"Xe"},{"x":0.715,"y":2.75,"c":"Xe"},{"x":0.715,"y":3.05,"c":"Xe"},
{"x":0.01,"y":0.14,"c":"Kr"},{"x":0.045,"y":0.26,"c":"Kr"},{"x":0.065,"y":0.35,"c":"Kr"},{"x":0.08,"y":0.42,"c":"Kr"},{"x":0.08,"y":0.53,"c":"Kr"},{"x":0.09,"y":0.45,"c":"Kr"},{"x":0.1,"y":0.52,"c":"Kr"},{"x":0.115,"y":0.55,"c":"Kr"},{"x":0.125,"y":0.6,"c":"Kr"},{"x":0.135,"y":0.65,"c":"Kr"},{"x":0.15,"y":0.72,"c":"Kr"},{"x":0.16,"y":0.8,"c":"Kr"},{"x":0.165,"y":0.92,"c":"Kr"},{"x":0.175,"y":0.85,"c":"Kr"},{"x":0.18,"y":0.95,"c":"Kr"},{"x":0.19,"y":0.85,"c":"Kr"},{"x":0.19,"y":1.0,"c":"Kr"},{"x":0.2,"y":0.95,"c":"Kr"},{"x":0.21,"y":1.0,"c":"Kr"},{"x":0.22,"y":1.05,"c":"Kr"},{"x":0.23,"y":1.1,"c":"Kr"},{"x":0.24,"y":1.0,"c":"Kr"},{"x":0.235,"y":1.2,"c":"Kr"},{"x":0.25,"y":1.15,"c":"Kr"},{"x":0.26,"y":1.2,"c":"Kr"},{"x":0.265,"y":1.3,"c":"Kr"},{"x":0.27,"y":1.1,"c":"Kr"},{"x":0.28,"y":1.25,"c":"Kr"},{"x":0.29,"y":1.35,"c":"Kr"},{"x":0.285,"y":1.15,"c":"Kr"},{"x":0.295,"y":1.2,"c":"Kr"},{"x":0.3,"y":1.3,"c":"Kr"},{"x":0.31,"y":1.4,"c":"Kr"},{"x":0.32,"y":1.3,"c":"Kr"},{"x":0.31,"y":1.55,"c":"Kr"},{"x":0.325,"y":1.38,"c":"Kr"},{"x":0.33,"y":1.45,"c":"Kr"},{"x":0.34,"y":1.5,"c":"Kr"},{"x":0.345,"y":1.62,"c":"Kr"},{"x":0.35,"y":1.55,"c":"Kr"},{"x":0.35,"y":1.7,"c":"Kr"},{"x":0.36,"y":1.6,"c":"Kr"},{"x":0.365,"y":1.5,"c":"Kr"},{"x":0.37,"y":1.7,"c":"Kr"},{"x":0.375,"y":1.8,"c":"Kr"},{"x":0.38,"y":1.6,"c":"Kr"},{"x":0.385,"y":1.9,"c":"Kr"},{"x":0.39,"y":1.75,"c":"Kr"},{"x":0.395,"y":1.62,"c":"Kr"},{"x":0.4,"y":1.85,"c":"Kr"},{"x":0.405,"y":1.92,"c":"Kr"},{"x":0.41,"y":1.7,"c":"Kr"},{"x":0.41,"y":2.0,"c":"Kr"},{"x":0.42,"y":1.9,"c":"Kr"},{"x":0.425,"y":1.78,"c":"Kr"},{"x":0.43,"y":2.05,"c":"Kr"},{"x":0.43,"y":1.8,"c":"Kr"},{"x":0.435,"y":2.12,"c":"Kr"},{"x":0.44,"y":2.0,"c":"Kr"},{"x":0.44,"y":2.2,"c":"Kr"},{"x":0.45,"y":2.1,"c":"Kr"},{"x":0.45,"y":2.35,"c":"Kr"},{"x":0.455,"y":1.92,"c":"Kr"},{"x":0.455,"y":2.22,"c":"Kr"},{"x":0.46,"y":2.0,"c":"Kr"},{"x":0.46,"y":2.25,"c":"Kr"},{"x":0.465,"y":2.12,"c":"Kr"},{"x":0.465,"y":2.38,"c":"Kr"},{"x":0.47,"y":2.15,"c":"Kr"},{"x":0.47,"y":2.4,"c":"Kr"},{"x":0.475,"y":1.9,"c":"Kr"},{"x":0.48,"y":2.3,"c":"Kr"},{"x":0.485,"y":2.02,"c":"Kr"},{"x":0.485,"y":2.4,"c":"Kr"},{"x":0.49,"y":2.15,"c":"Kr"},{"x":0.49,"y":2.5,"c":"Kr"},{"x":0.5,"y":2.3,"c":"Kr"},{"x":0.5,"y":2.7,"c":"Kr"},{"x":0.505,"y":2.2,"c":"Kr"},{"x":0.505,"y":2.6,"c":"Kr"},{"x":0.51,"y":2.5,"c":"Kr"},{"x":0.51,"y":2.1,"c":"Kr"},{"x":0.515,"y":2.35,"c":"Kr"},{"x":0.515,"y":2.8,"c":"Kr"},{"x":0.52,"y":2.35,"c":"Kr"},{"x":0.52,"y":2.65,"c":"Kr"},{"x":0.525,"y":2.5,"c":"Kr"},{"x":0.525,"y":2.95,"c":"Kr"},{"x":0.53,"y":2.55,"c":"Kr"},{"x":0.53,"y":2.85,"c":"Kr"},{"x":0.535,"y":2.35,"c":"Kr"},{"x":0.535,"y":2.7,"c":"Kr"},{"x":0.54,"y":2.2,"c":"Kr"},{"x":0.54,"y":2.7,"c":"Kr"},{"x":0.54,"y":3.0,"c":"Kr"},{"x":0.545,"y":2.6,"c":"Kr"},{"x":0.545,"y":3.1,"c":"Kr"},{"x":0.55,"y":2.5,"c":"Kr"},{"x":0.55,"y":2.85,"c":"Kr"},{"x":0.55,"y":3.2,"c":"Kr"},{"x":0.555,"y":2.7,"c":"Kr"},{"x":0.555,"y":3.05,"c":"Kr"},{"x":0.555,"y":3.35,"c":"Kr"},{"x":0.56,"y":2.6,"c":"Kr"},{"x":0.56,"y":3.0,"c":"Kr"},{"x":0.56,"y":3.4,"c":"Kr"},{"x":0.565,"y":2.9,"c":"Kr"},{"x":0.565,"y":3.25,"c":"Kr"},{"x":0.565,"y":3.5,"c":"Kr"},{"x":0.57,"y":2.75,"c":"Kr"},{"x":0.57,"y":3.1,"c":"Kr"},{"x":0.57,"y":3.6,"c":"Kr"},{"x":0.575,"y":2.65,"c":"Kr"},{"x":0.575,"y":3.0,"c":"Kr"},{"x":0.575,"y":3.4,"c":"Kr"},{"x":0.58,"y":2.85,"c":"Kr"},{"x":0.58,"y":3.25,"c":"Kr"},{"x":0.58,"y":3.5,"c":"Kr"},{"x":0.585,"y":2.95,"c":"Kr"},{"x":0.585,"y":3.15,"c":"Kr"},{"x":0.585,"y":3.65,"c":"Kr"},{"x":0.59,"y":2.7,"c":"Kr"},{"x":0.59,"y":3.0,"c":"Kr"},{"x":0.59,"y":3.4,"c":"Kr"},{"x":0.59,"y":3.8,"c":"Kr"},{"x":0.595,"y":2.8,"c":"Kr"},{"x":0.595,"y":3.25,"c":"Kr"},{"x":0.595,"y":3.6,"c":"Kr"},{"x":0.6,"y":2.85,"c":"Kr"},{"x":0.6,"y":3.1,"c":"Kr"},{"x":0.6,"y":3.55,"c":"Kr"},{"x":0.6,"y":4.0,"c":"Kr"},{"x":0.605,"y":2.95,"c":"Kr"},{"x":0.605,"y":3.45,"c":"Kr"},{"x":0.605,"y":3.9,"c":"Kr"},{"x":0.61,"y":3.0,"c":"Kr"},{"x":0.61,"y":3.3,"c":"Kr"},{"x":0.61,"y":3.7,"c":"Kr"},{"x":0.61,"y":4.1,"c":"Kr"},{"x":0.615,"y":3.15,"c":"Kr"},{"x":0.615,"y":3.6,"c":"Kr"},{"x":0.615,"y":3.95,"c":"Kr"},{"x":0.62,"y":3.2,"c":"Kr"},{"x":0.62,"y":3.5,"c":"Kr"},{"x":0.62,"y":3.85,"c":"Kr"},{"x":0.625,"y":3.3,"c":"Kr"},{"x":0.625,"y":3.75,"c":"Kr"},{"x":0.625,"y":4.05,"c":"Kr"},{"x":0.63,"y":3.1,"c":"Kr"},{"x":0.63,"y":3.4,"c":"Kr"},{"x":0.63,"y":3.65,"c":"Kr"},{"x":0.63,"y":4.2,"c":"Kr"},{"x":0.635,"y":3.0,"c":"Kr"},{"x":0.635,"y":3.5,"c":"Kr"},{"x":0.635,"y":3.9,"c":"Kr"},{"x":0.64,"y":2.9,"c":"Kr"},{"x":0.64,"y":3.25,"c":"Kr"},{"x":0.64,"y":3.6,"c":"Kr"},{"x":0.64,"y":4.0,"c":"Kr"},{"x":0.64,"y":4.45,"c":"Kr"},{"x":0.645,"y":3.4,"c":"Kr"},{"x":0.645,"y":3.75,"c":"Kr"},{"x":0.645,"y":4.15,"c":"Kr"},{"x":0.65,"y":3.3,"c":"Kr"},{"x":0.65,"y":3.85,"c":"Kr"},{"x":0.65,"y":4.25,"c":"Kr"},{"x":0.655,"y":3.15,"c":"Kr"},{"x":0.655,"y":3.55,"c":"Kr"},{"x":0.655,"y":4.05,"c":"Kr"},{"x":0.66,"y":3.6,"c":"Kr"},{"x":0.66,"y":4.1,"c":"Kr"},{"x":0.66,"y":4.3,"c":"Kr"},{"x":0.67,"y":4.4,"c":"Kr"},{"x":0.67,"y":4.7,"c":"Kr"},{"x":0.675,"y":4.5,"c":"Kr"},{"x":0.68,"y":4.8,"c":"Kr"},{"x":0.68,"y":4.95,"c":"Kr"},{"x":0.68,"y":3.47,"c":"Kr"},{"x":0.65,"y":4.4,"c":"Kr"},{"x":0.66,"y":4.5,"c":"Kr"},{"x":0.185,"y":2.12,"c":"Kr"},{"x":0.19,"y":2.05,"c":"Kr"},{"x":0.2,"y":2.0,"c":"Kr"},{"x":0.225,"y":2.07,"c":"Kr"},{"x":0.235,"y":2.03,"c":"Kr"},{"x":0.26,"y":2.02,"c":"Kr"},{"x":0.27,"y":1.95,"c":"Kr"},{"x":0.28,"y":2.0,"c":"Kr"},{"x":0.29,"y":1.95,"c":"Kr"},{"x":0.29,"y":1.85,"c":"Kr"},{"x":0.3,"y":1.8,"c":"Kr"},{"x":0.31,"y":1.7,"c":"Kr"},{"x":0.325,"y":2.13,"c":"Kr"},{"x":0.37,"y":2.15,"c":"Kr"},{"x":0.37,"y":2.05,"c":"Kr"},{"x":0.4,"y":2.35,"c":"Kr"},{"x":0.49,"y":4.0,"c":"Kr"},{"x":0.51,"y":3.8,"c":"Kr"},{"x":0.51,"y":3.6,"c":"Kr"},{"x":0.5,"y":3.45,"c":"Kr"},{"x":0.52,"y":3.35,"c":"Kr"},{"x":0.51,"y":4.45,"c":"Kr"},{"x":0.53,"y":4.35,"c":"Kr"},{"x":0.52,"y":4.15,"c":"Kr"},{"x":0.52,"y":4.05,"c":"Kr"},{"x":0.545,"y":4.15,"c":"Kr"},{"x":0.555,"y":4.15,"c":"Kr"},{"x":0.57,"y":4.3,"c":"Kr"},{"x":0.59,"y":4.4,"c":"Kr"},{"x":0.6,"y":4.45,"c":"Kr"},{"x":0.62,"y":4.45,"c":"Kr"},{"x":0.46,"y":3.0,"c":"Kr"},{"x":0.47,"y":3.0,"c":"Kr"},{"x":0.49,"y":2.75,"c":"Kr"},{"x":0.5,"y":2.9,"c":"Kr"},{"x":0.51,"y":3.15,"c":"Kr"},{"x":0.53,"y":3.2,"c":"Kr"},{"x":0.54,"y":3.5,"c":"Kr"},{"x":0.55,"y":3.55,"c":"Kr"},{"x":0.6,"y":2.45,"c":"Kr"},{"x":0.605,"y":2.3,"c":"Kr"},{"x":0.63,"y":2.5,"c":"Kr"},{"x":0.66,"y":3.0,"c":"Kr"},{"x":0.51,"y":1.67,"c":"Kr"},{"x":0.46,"y":1.75,"c":"Kr"},{"x":0.42,"y":1.55,"c":"Kr"},{"x":0.37,"y":1.24,"c":"Kr"},{"x":0.31,"y":0.93,"c":"Kr"},
{"x":0.39,"y":1.1,"c":"I"},{"x":0.42,"y":1.36,"c":"I"},{"x":0.47,"y":1.43,"c":"I"},{"x":0.48,"y":1.5,"c":"I"},{"x":0.5,"y":1.72,"c":"I"},{"x":0.535,"y":2.0,"c":"I"}]
},
"vconcat":[
{"spacing":88,"resolve":{"scale":{"color":"independent"}},"hconcat":[
{"width":2.7,"height":205,"view":{"stroke":null},"data":{"values":[]},"mark":{"type":"point"},"encoding":{}},
{"width":278.3,"height":205,"layer":[
{"data":{"values":[{"k":"Xe","n":1906},{"k":"Kr","n":581},{"k":"I","n":7}]},"mark":{"type":"bar"},"encoding":{"x":{"field":"k","type":"nominal","sort":null,"scale":{"domain":["Xe","Kr","I"],"paddingInner":0.2,"paddingOuter":0.1},"axis":{"labelAngle":0,"title":null,"grid":false}},"y":{"field":"n","type":"quantitative","scale":{"domain":[0,1997],"nice":false},"axis":{"values":[0,500,1000,1500],"format":"d","title":"Objects","grid":false,"titlePadding":13}},"color":{"field":"k","type":"nominal","legend":null,"scale":{"domain":["Xe","Kr","I"],"range":["#0173a3","#ff7f1c","#029a32"]}}}},
{"data":{"values":[{"k":"I","n":1422,"t":"A"}]},"mark":{"type":"text","font":"Liberation Serif","fontSize":72,"align":"center","baseline":"alphabetic","dx":12,"color":"#000"},"encoding":{"x":{"field":"k","type":"nominal"},"y":{"field":"n","type":"quantitative"},"text":{"field":"t"}}}]},
{"width":278.3,"height":205,"layer":[
{"data":{"values":[{"k":"HET","n":2262},{"k":"MS","n":112},{"k":"TAL","n":104}]},"mark":{"type":"bar"},"encoding":{"x":{"field":"k","type":"nominal","sort":null,"scale":{"domain":["HET","MS","TAL"],"paddingInner":0.2,"paddingOuter":0.1},"axis":{"labelAngle":0,"title":null,"grid":false}},"y":{"field":"n","type":"quantitative","scale":{"domain":[0,2370],"nice":false},"axis":{"values":[0,500,1000,1500,2000],"format":"d","title":"Objects","grid":false,"titlePadding":13}},"color":{"field":"k","type":"nominal","legend":null,"scale":{"domain":["HET","MS","TAL"],"range":["#0173a3","#ff7f1c","#029a32"]}}}},
{"data":{"values":[{"k":"TAL","n":1700,"t":"B"}]},"mark":{"type":"text","font":"Liberation Serif","fontSize":72,"align":"center","baseline":"alphabetic","dx":12,"color":"#000"},"encoding":{"x":{"field":"k","type":"nominal"},"y":{"field":"n","type":"quantitative"},"text":{"field":"t"}}}]}
]},
{"columns":8,"bounds":"flush","spacing":{"row":4,"column":3},"resolve":{"scale":{"color":"independent"}},"concat":[
{"width":291,"height":27,"view":{"stroke":null},"layer":[{"data":{"values":[{"a":1.577,"b":1.66,"n":1},{"a":1.66,"b":1.742,"n":2},{"a":1.742,"b":1.825,"n":1},{"a":1.825,"b":1.907,"n":2},{"a":1.907,"b":1.99,"n":27},{"a":1.99,"b":2.072,"n":37},{"a":2.072,"b":2.155,"n":32},{"a":2.155,"b":2.237,"n":41},{"a":2.237,"b":2.32,"n":42},{"a":2.32,"b":2.402,"n":43},{"a":2.402,"b":2.485,"n":43},{"a":2.485,"b":2.567,"n":34},{"a":2.567,"b":2.65,"n":18},{"a":2.65,"b":2.732,"n":18},{"a":2.732,"b":2.815,"n":29},{"a":2.815,"b":2.897,"n":20},{"a":2.897,"b":2.98,"n":36},{"a":2.98,"b":3.062,"n":50},{"a":3.062,"b":3.145,"n":51},{"a":3.145,"b":3.227,"n":83},{"a":3.227,"b":3.31,"n":57},{"a":3.31,"b":3.392,"n":59},{"a":3.392,"b":3.475,"n":68},{"a":3.475,"b":3.557,"n":57},{"a":3.557,"b":3.64,"n":50},{"a":3.64,"b":3.722,"n":43},{"a":3.722,"b":3.805,"n":42},{"a":3.805,"b":3.887,"n":41},{"a":3.887,"b":3.97,"n":32},{"a":3.97,"b":4.052,"n":33},{"a":4.052,"b":4.135,"n":25},{"a":4.135,"b":4.217,"n":26},{"a":4.217,"b":4.3,"n":25},{"a":4.3,"b":4.382,"n":30},{"a":4.382,"b":4.465,"n":23},{"a":4.465,"b":4.547,"n":24},{"a":4.547,"b":4.63,"n":24},{"a":4.63,"b":4.712,"n":25},{"a":4.712,"b":4.795,"n":12},{"a":4.795,"b":4.877,"n":8},{"a":4.877,"b":4.96,"n":2}]},"mark":{"type":"rect","color":"#999"},"encoding":{"x":{"field":"a","type":"quantitative","scale":{"domain":[1,5]},"axis":null},"x2":{"field":"b"},"y":{"field":"n","type":"quantitative","scale":{"domain":[0,84],"nice":false},"axis":null},"y2":{"datum":0}}},
{"data":{"values":[{"a":5.454,"n":80.9,"t":"Propellant"}]},"mark":{"type":"text","fontSize":23,"fontStyle":"italic","align":"center","baseline":"alphabetic","color":"#111"},"encoding":{"x":{"field":"a","type":"quantitative","scale":{"domain":[1,5]},"axis":null},"y":{"field":"n","type":"quantitative","scale":{"domain":[0,84],"nice":false},"axis":null},"text":{"field":"t"}}}]},
{"width":28,"height":27,"view":{"stroke":null},"data":{"values":[]},"mark":{"type":"point"},"encoding":{}},
{"width":86,"height":27,"view":{"stroke":null},"data":{"values":[]},"mark":{"type":"point"},"encoding":{}},
{"width":290,"height":27,"view":{"stroke":null},"data":{"values":[{"a":1.158,"b":1.2,"n":12},{"a":1.2,"b":1.241,"n":3},{"a":1.282,"b":1.323,"n":24},{"a":1.406,"b":1.447,"n":7},{"a":1.528,"b":1.569,"n":46},{"a":1.569,"b":1.61,"n":10},{"a":1.61,"b":1.651,"n":14},{"a":1.651,"b":1.692,"n":8},{"a":1.692,"b":1.733,"n":9},{"a":1.733,"b":1.77,"n":20},{"a":1.812,"b":1.853,"n":14},{"a":1.853,"b":1.894,"n":17},{"a":1.894,"b":1.935,"n":83},{"a":1.977,"b":2.018,"n":14},{"a":2.018,"b":2.059,"n":4},{"a":2.059,"b":2.1,"n":27},{"a":2.1,"b":2.142,"n":7},{"a":2.142,"b":2.183,"n":55},{"a":2.183,"b":2.22,"n":2},{"a":2.22,"b":2.262,"n":17},{"a":2.262,"b":2.303,"n":2},{"a":2.303,"b":2.344,"n":7},{"a":2.344,"b":2.385,"n":8},{"a":2.385,"b":2.426,"n":15},{"a":2.509,"b":2.55,"n":23},{"a":2.592,"b":2.633,"n":39},{"a":2.633,"b":2.674,"n":2},{"a":2.794,"b":2.835,"n":2}]},"mark":{"type":"rect","color":"#999"},"encoding":{"x":{"field":"a","type":"quantitative","scale":{"domain":[1,3]},"axis":null},"x2":{"field":"b"},"y":{"field":"n","type":"quantitative","scale":{"domain":[0,84],"nice":false},"axis":null},"y2":{"datum":0}}},
{"width":28,"height":27,"view":{"stroke":null},"data":{"values":[]},"mark":{"type":"point"},"encoding":{}},
{"width":85,"height":27,"view":{"stroke":null},"data":{"values":[]},"mark":{"type":"point"},"encoding":{}},
{"width":291,"height":27,"view":{"stroke":null},"layer":[{"data":{"values":[{"a":0.032,"b":0.049,"n":2},{"a":0.065,"b":0.082,"n":2},{"a":0.082,"b":0.098,"n":3},{"a":0.098,"b":0.115,"n":6},{"a":0.115,"b":0.131,"n":7},{"a":0.131,"b":0.148,"n":8},{"a":0.148,"b":0.164,"n":11},{"a":0.164,"b":0.181,"n":14},{"a":0.181,"b":0.197,"n":11},{"a":0.197,"b":0.214,"n":16},{"a":0.214,"b":0.23,"n":24},{"a":0.23,"b":0.247,"n":27},{"a":0.247,"b":0.263,"n":23},{"a":0.263,"b":0.28,"n":20},{"a":0.28,"b":0.296,"n":25},{"a":0.296,"b":0.313,"n":16},{"a":0.313,"b":0.329,"n":25},{"a":0.329,"b":0.346,"n":25},{"a":0.346,"b":0.362,"n":31},{"a":0.362,"b":0.379,"n":33},{"a":0.379,"b":0.395,"n":41},{"a":0.395,"b":0.412,"n":44},{"a":0.412,"b":0.428,"n":32},{"a":0.428,"b":0.445,"n":27},{"a":0.445,"b":0.461,"n":50},{"a":0.461,"b":0.478,"n":42},{"a":0.478,"b":0.494,"n":49},{"a":0.494,"b":0.511,"n":63},{"a":0.511,"b":0.527,"n":77},{"a":0.527,"b":0.544,"n":79},{"a":0.544,"b":0.56,"n":83},{"a":0.56,"b":0.577,"n":73},{"a":0.577,"b":0.593,"n":67},{"a":0.593,"b":0.61,"n":64},{"a":0.61,"b":0.626,"n":67},{"a":0.626,"b":0.643,"n":45},{"a":0.643,"b":0.659,"n":41},{"a":0.659,"b":0.676,"n":31},{"a":0.676,"b":0.692,"n":26},{"a":0.692,"b":0.709,"n":11},{"a":0.709,"b":0.725,"n":8},{"a":0.725,"b":0.742,"n":3}]},"mark":{"type":"rect","color":"#999"},"encoding":{"x":{"field":"a","type":"quantitative","scale":{"domain":[0,0.8]},"axis":null},"x2":{"field":"b"},"y":{"field":"n","type":"quantitative","scale":{"domain":[0,84],"nice":false},"axis":null},"y2":{"datum":0}}},
{"data":{"values":[{"a":-0.1053,"n":80.9,"t":"Type"}]},"mark":{"type":"text","fontSize":23,"fontStyle":"italic","align":"center","baseline":"alphabetic","color":"#111"},"encoding":{"x":{"field":"a","type":"quantitative","scale":{"domain":[0,0.8]},"axis":null},"y":{"field":"n","type":"quantitative","scale":{"domain":[0,84],"nice":false},"axis":null},"text":{"field":"t"}}}]},
{"width":28,"height":27,"view":{"stroke":null},"data":{"values":[]},"mark":{"type":"point"},"encoding":{}},
{"width":291,"height":288,"encoding":{"x":{"field":"x","type":"quantitative","scale":{"type":"log","domain":[10,100000],"nice":false},"axis":{"values":[10,100,1000,10000,100000],"title":"P\u00a0\u00a0, W","titlePadding":6,"labelExpr":"datum.value==10?'10¹':datum.value==100?'10²':datum.value==1000?'10³':datum.value==10000?'10⁴':'10⁵'"}},"y":{"field":"y","type":"quantitative","scale":{"domain":[0.0285,1.255],"nice":false},"axis":{"values":[0.2,0.4,0.6,0.8,1.0,1.2],"format":".1f","title":"U\u00a0\u00a0, kV","titlePadding":11}}},"layer":[
{"data":{"name":"c"},"mark":{"type":"point","filled":true,"size":46,"opacity":1,"stroke":"white","strokeWidth":0.6},"encoding":{"color":{"field":"c","type":"nominal","sort":null,"scale":{"domain":["Xe","Kr","I"],"range":["#0173b2","#ff7f1c","#02a01a"]},"legend":{"title":"Propellant","orient":"top-left","offset":10}}}},
{"data":{"values":[{"x":695,"y":-0.21,"t":"d"}]},"mark":{"type":"text","fontSize":15,"fontStyle":"italic","align":"center","baseline":"alphabetic","color":"#111"},"encoding":{"text":{"field":"t"}}},
{"data":{"values":[{"x":2.12,"y":0.582,"t":"d"}]},"mark":{"type":"text","fontSize":15,"fontStyle":"italic","align":"center","baseline":"alphabetic","angle":270,"color":"#111"},"encoding":{"text":{"field":"t"}}},
{"data":{"values":[{"x":34,"y":0.373,"t":"C"}]},"mark":{"type":"text","font":"Liberation Serif","fontSize":72,"align":"center","baseline":"alphabetic","color":"#000"},"encoding":{"text":{"field":"t"}}}]},
{"width":28,"height":288,"view":{"stroke":null},"data":{"values":[{"a":1.18,"b":1.205,"n":2},{"a":0.98,"b":1.005,"n":4},{"a":0.93,"b":0.955,"n":2},{"a":0.88,"b":0.905,"n":6},{"a":0.83,"b":0.855,"n":2},{"a":0.78,"b":0.805,"n":10},{"a":0.73,"b":0.755,"n":1},{"a":0.68,"b":0.705,"n":14},{"a":0.63,"b":0.655,"n":8},{"a":0.58,"b":0.605,"n":25},{"a":0.53,"b":0.555,"n":4},{"a":0.48,"b":0.505,"n":42},{"a":0.43,"b":0.455,"n":8},{"a":0.38,"b":0.405,"n":43},{"a":0.33,"b":0.355,"n":15},{"a":0.28,"b":0.305,"n":83},{"a":0.255,"b":0.28,"n":14},{"a":0.23,"b":0.255,"n":29},{"a":0.205,"b":0.23,"n":10},{"a":0.18,"b":0.205,"n":38},{"a":0.155,"b":0.18,"n":6},{"a":0.13,"b":0.155,"n":11},{"a":0.105,"b":0.13,"n":5},{"a":0.08,"b":0.105,"n":5}]},"mark":{"type":"rect","color":"#999"},"encoding":{"y":{"field":"a","type":"quantitative","scale":{"domain":[0.0285,1.255],"nice":false},"axis":null},"y2":{"field":"b"},"x":{"field":"n","type":"quantitative","scale":{"domain":[0,84],"nice":false},"axis":null},"x2":{"datum":0}}},
{"width":86,"height":288,"view":{"stroke":null},"data":{"values":[]},"mark":{"type":"point"},"encoding":{}},
{"width":290,"height":288,"encoding":{"x":{"field":"x","type":"quantitative","scale":{"type":"log","domain":[10,1000],"nice":false},"axis":{"values":[10,20,30,40,50,60,70,80,90,100,200,300,400,500,600,700,800,900,1000],"title":"D\u00a0\u00a0\u00a0, mm","titlePadding":6,"labelExpr":"datum.value==10?'10¹':datum.value==100?'10²':datum.value==1000?'10³':''","gridColor":{"condition":{"test":"datum.value==10||datum.value==100||datum.value==1000","value":"#a8a8a8"},"value":"#e0e0e0"},"tickSize":{"condition":{"test":"datum.value==10||datum.value==100||datum.value==1000","value":5},"value":3}}},"y":{"field":"y","type":"quantitative","scale":{"type":"log","domain":[1,100],"nice":false},"axis":{"values":[1,2,3,4,5,6,7,8,9,10,20,30,40,50,60,70,80,90,100],"title":"h, mm","titlePadding":14,"labelExpr":"datum.value==1?'10⁰':datum.value==10?'10¹':datum.value==100?'10²':''","gridColor":{"condition":{"test":"datum.value==1||datum.value==10||datum.value==100","value":"#a8a8a8"},"value":"#e0e0e0"},"tickSize":{"condition":{"test":"datum.value==1||datum.value==10||datum.value==100","value":5},"value":3}}}},"layer":[
{"data":{"name":"d"},"mark":{"type":"point","filled":true,"size":46,"opacity":1,"stroke":"white","strokeWidth":0.6},"encoding":{"color":{"field":"c","type":"nominal","sort":null,"scale":{"domain":["Xe","Kr","I"],"range":["#0173b2","#ff7f1c","#02a01a"]},"legend":{"title":"Propellant","orient":"bottom-right","offset":10}}}},
{"data":{"values":[{"x":72.5,"y":0.42,"t":"av"}]},"mark":{"type":"text","fontSize":15,"fontStyle":"italic","align":"center","baseline":"alphabetic","color":"#111"},"encoding":{"text":{"field":"t"}}},
{"data":{"values":[{"x":40.4,"y":1.27,"t":"D"}]},"mark":{"type":"text","font":"Liberation Serif","fontSize":72,"align":"center","baseline":"alphabetic","color":"#000"},"encoding":{"text":{"field":"t"}}}]},
{"width":28,"height":288,"view":{"stroke":null},"data":{"values":[{"a":1.856,"b":1.893,"n":28},{"a":1.82,"b":1.856,"n":50},{"a":1.694,"b":1.735,"n":19},{"a":1.61,"b":1.65,"n":17},{"a":1.57,"b":1.61,"n":6},{"a":1.53,"b":1.57,"n":10},{"a":1.49,"b":1.53,"n":3},{"a":1.41,"b":1.45,"n":83},{"a":1.37,"b":1.41,"n":8},{"a":1.33,"b":1.37,"n":24},{"a":1.29,"b":1.33,"n":10},{"a":1.25,"b":1.29,"n":27},{"a":1.21,"b":1.25,"n":42},{"a":1.17,"b":1.21,"n":58},{"a":1.13,"b":1.17,"n":4},{"a":1.09,"b":1.13,"n":50},{"a":1.02,"b":1.06,"n":22},{"a":0.98,"b":1.02,"n":36},{"a":0.94,"b":0.98,"n":20},{"a":0.855,"b":0.895,"n":15},{"a":0.815,"b":0.855,"n":14},{"a":0.735,"b":0.775,"n":23},{"a":0.695,"b":0.735,"n":14},{"a":0.655,"b":0.695,"n":2},{"a":0.3,"b":0.34,"n":5}]},"mark":{"type":"rect","color":"#999"},"encoding":{"y":{"field":"a","type":"quantitative","scale":{"domain":[0,2]},"axis":null},"y2":{"field":"b"},"x":{"field":"n","type":"quantitative","scale":{"domain":[0,84],"nice":false},"axis":null},"x2":{"datum":0}}},
{"width":85,"height":288,"view":{"stroke":null},"data":{"values":[]},"mark":{"type":"point"},"encoding":{}},
{"width":291,"height":288,"encoding":{"x":{"field":"x","type":"quantitative","scale":{"domain":[0,0.8],"nice":false},"axis":{"values":[0,0.2,0.4,0.6,0.8],"format":".1f","title":"η\u00a0\u00a0","titlePadding":6}},"y":{"field":"y","type":"quantitative","scale":{"domain":[0,5],"nice":false},"axis":{"values":[0,1,2,3,4,5],"format":".1f","title":"I\u00a0\u00a0\u00a0\u00a0, ks","titlePadding":10}}},"layer":[
{"data":{"name":"e"},"mark":{"type":"point","filled":true,"size":46,"opacity":1,"stroke":"white","strokeWidth":0.6},"encoding":{"color":{"field":"c","type":"nominal","sort":null,"scale":{"domain":["Xe","Kr","I"],"range":["#0173b2","#ff7f1c","#02a01a"]},"legend":{"title":"Propellant","orient":"top-left","offset":10}}}},
{"data":{"values":[{"x":0.4316,"y":-0.94,"t":"a"}]},"mark":{"type":"text","fontSize":15,"fontStyle":"italic","align":"center","baseline":"alphabetic","color":"#111"},"encoding":{"text":{"field":"t"}}},
{"data":{"values":[{"x":-0.135,"y":2.2,"t":"spa"}]},"mark":{"type":"text","fontSize":14,"fontStyle":"italic","align":"center","baseline":"alphabetic","angle":270,"color":"#111"},"encoding":{"text":{"field":"t"}}},
{"data":{"values":[{"x":0.704,"y":0.25,"t":"E"}]},"mark":{"type":"text","font":"Liberation Serif","fontSize":72,"align":"center","baseline":"alphabetic","color":"#000"},"encoding":{"text":{"field":"t"}}}]},
{"width":28,"height":288,"view":{"stroke":null},"data":{"values":[{"a":4.8,"b":5,"n":1},{"a":4.36,"b":4.6,"n":3},{"a":4.13,"b":4.36,"n":4},{"a":3.95,"b":4.13,"n":5},{"a":3.78,"b":3.95,"n":6},{"a":3.58,"b":3.78,"n":9},{"a":3.38,"b":3.58,"n":12},{"a":3.26,"b":3.38,"n":15},{"a":3.06,"b":3.26,"n":21},{"a":2.86,"b":3.06,"n":34},{"a":2.74,"b":2.86,"n":42},{"a":2.54,"b":2.74,"n":46},{"a":2.44,"b":2.54,"n":50},{"a":2.25,"b":2.44,"n":52},{"a":2.04,"b":2.25,"n":70},{"a":1.84,"b":2.04,"n":78},{"a":1.72,"b":1.84,"n":83},{"a":1.52,"b":1.72,"n":76},{"a":1.32,"b":1.52,"n":70},{"a":1.12,"b":1.32,"n":58},{"a":0.91,"b":1.12,"n":43},{"a":0.81,"b":0.91,"n":36},{"a":0.62,"b":0.81,"n":22},{"a":0.5,"b":0.62,"n":12},{"a":0.3,"b":0.5,"n":4},{"a":0.07,"b":0.3,"n":1}]},"mark":{"type":"rect","color":"#999"},"encoding":{"y":{"field":"a","type":"quantitative","scale":{"domain":[0,5]},"axis":null},"y2":{"field":"b"},"x":{"field":"n","type":"quantitative","scale":{"domain":[0,84],"nice":false},"axis":null},"x2":{"datum":0}}}
]}
]}
